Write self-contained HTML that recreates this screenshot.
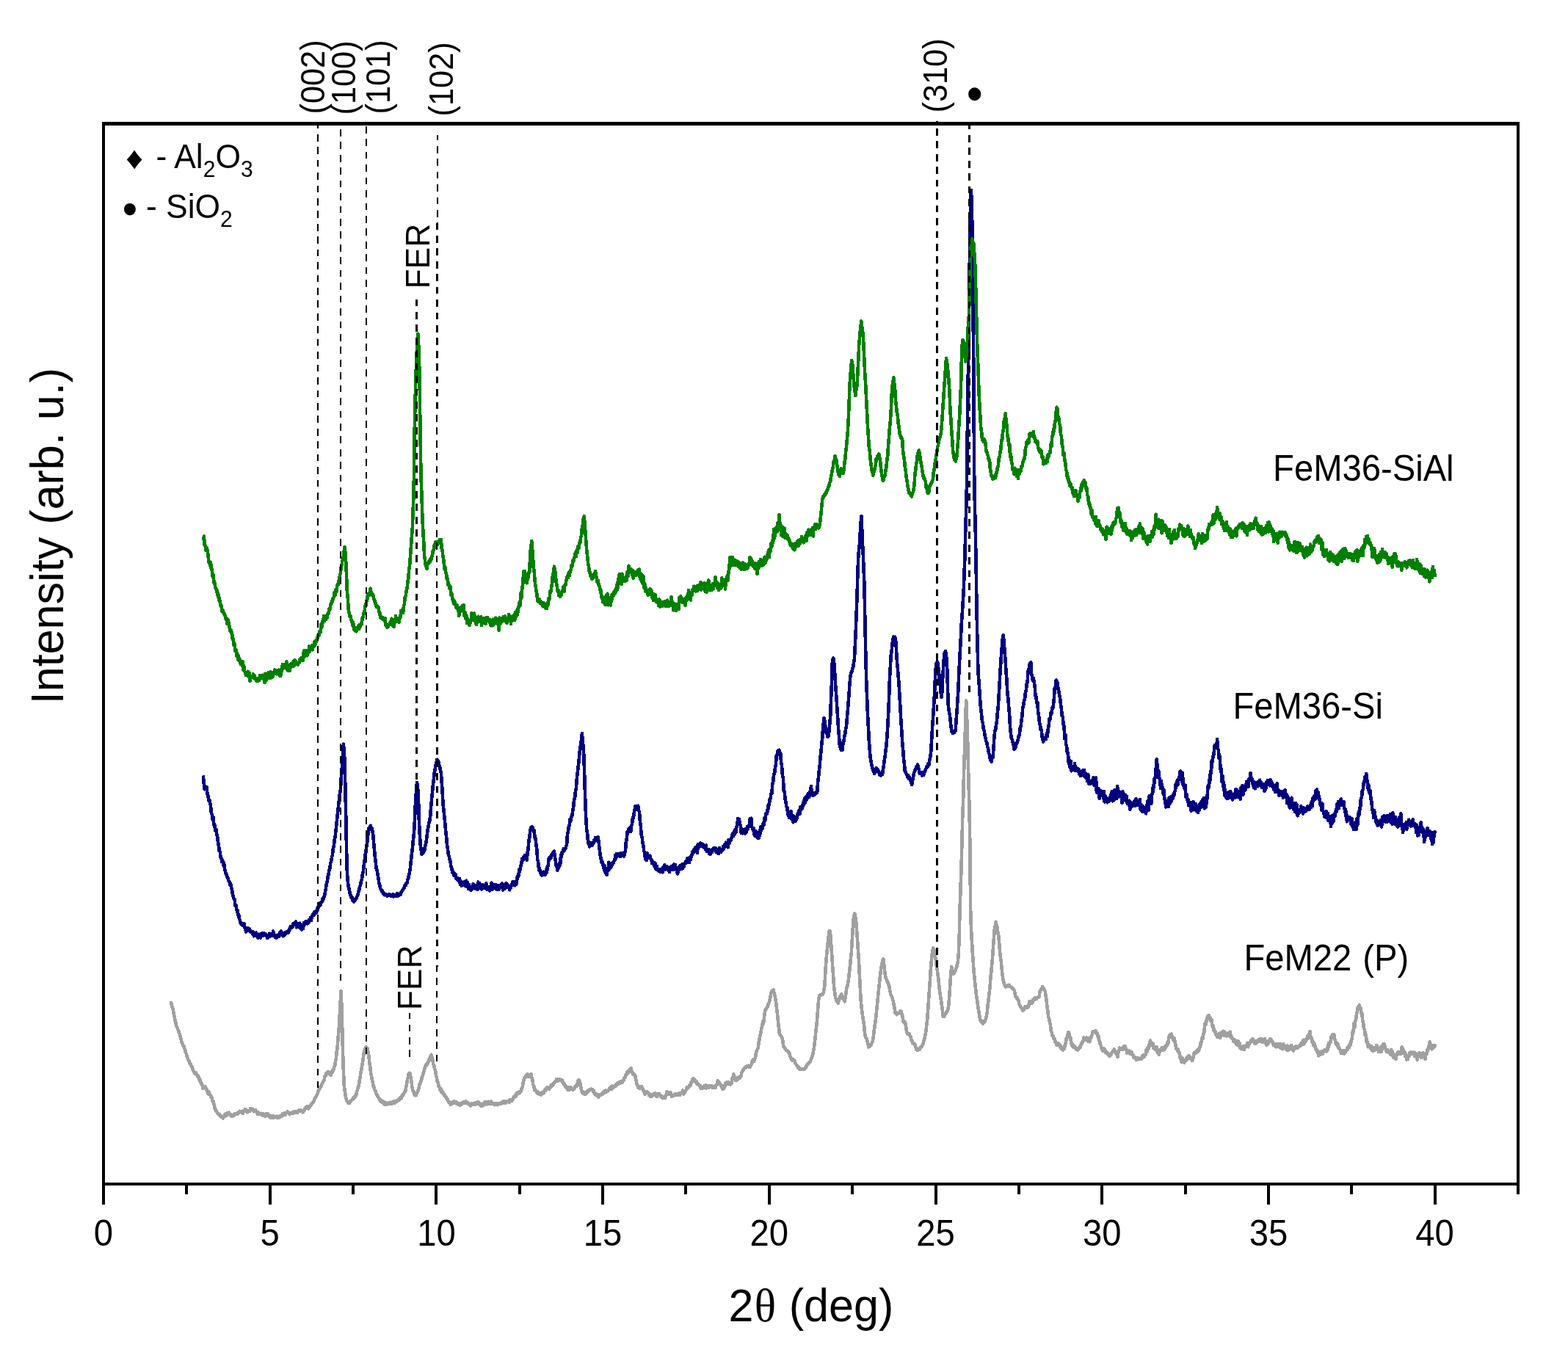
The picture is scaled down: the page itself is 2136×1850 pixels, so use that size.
<!DOCTYPE html>
<html lang="en"><head><meta charset="utf-8"><title>XRD patterns</title>
<style>
html,body{margin:0;padding:0;background:#fff;}
body{width:2136px;height:1850px;overflow:hidden;}
svg{display:block;}
text{font-family:"Liberation Sans", Arial, Helvetica, sans-serif;fill:#000;}
.t47{font-size:47.2px}.t44{font-size:44.4px}.t60{font-size:61.1px}.sub{font-size:30px}
.ser{font-family:"Liberation Serif", "DejaVu Serif", serif}
.curve{fill:none;stroke-linejoin:round;stroke-linecap:round}
.dl{stroke:#000;fill:none}
</style></head><body>
<svg width="2136" height="1850" viewBox="0 0 2136 1850">
<rect x="0" y="0" width="2136" height="1850" fill="#fff"/>
<g id="curves" shape-rendering="crispEdges">
<polyline class="curve" stroke="#a0a0a0" stroke-width="4.6" points="233.0,1366.2 233.9,1368.9 234.9,1372.9 235.8,1375.4 236.7,1381.2 237.6,1384.4 238.5,1390.6 239.4,1393.4 240.3,1397.5 241.2,1398.8 242.1,1402.3 243.0,1403.9 243.9,1407.0 244.8,1408.4 245.7,1412.7 246.6,1415.7 247.6,1420.1 248.5,1422.0 249.4,1424.7 250.3,1424.7 251.2,1428.3 252.1,1430.0 253.0,1434.3 253.9,1435.6 254.8,1439.7 255.7,1441.2 256.6,1444.1 257.5,1445.5 258.4,1448.4 259.3,1448.7 260.2,1451.7 261.2,1452.8 262.1,1455.7 263.0,1457.2 263.9,1460.4 264.8,1460.0 265.7,1462.8 266.6,1461.6 267.5,1464.2 268.4,1463.8 269.3,1466.6 270.2,1465.8 271.1,1469.8 272.0,1469.6 272.9,1474.3 273.8,1474.1 274.8,1477.8 275.7,1478.8 276.6,1482.8 277.5,1481.2 278.4,1482.0 279.3,1480.2 280.2,1481.5 281.1,1482.5 282.0,1486.6 282.9,1486.9 283.8,1490.3 284.7,1487.5 285.6,1491.2 286.5,1491.7 287.5,1494.9 288.4,1494.5 289.3,1499.5 290.2,1499.5 291.1,1503.6 292.0,1505.9 292.9,1510.9 293.8,1511.2 294.7,1514.0 295.6,1515.1 296.5,1516.6 297.4,1516.7 298.3,1518.8 299.2,1518.0 300.1,1520.8 301.1,1519.9 302.0,1522.0 302.9,1521.8 303.8,1523.4 304.7,1521.0 305.6,1520.7 306.5,1517.8 307.4,1520.3 308.3,1517.2 309.2,1519.5 310.1,1515.8 311.0,1517.7 311.9,1515.6 312.8,1518.2 313.7,1517.8 314.7,1520.3 315.6,1519.5 316.5,1520.6 317.4,1519.6 318.3,1519.9 319.2,1517.3 320.1,1518.2 321.0,1516.9 321.9,1518.0 322.8,1517.0 323.7,1518.0 324.6,1515.3 325.5,1516.2 326.4,1513.8 327.3,1514.8 328.3,1514.0 329.2,1515.9 330.1,1515.0 331.0,1517.0 331.9,1512.9 332.8,1513.8 333.7,1511.4 334.6,1513.3 335.5,1511.7 336.4,1515.3 337.3,1513.1 338.2,1514.4 339.1,1513.7 340.0,1514.0 341.0,1510.1 341.9,1510.5 342.8,1510.2 343.7,1511.9 344.6,1511.5 345.5,1514.4 346.4,1512.8 347.3,1512.9 348.2,1512.3 349.1,1514.6 350.0,1514.8 350.9,1517.6 351.8,1515.1 352.7,1517.7 353.6,1516.9 354.6,1517.7 355.5,1516.9 356.4,1518.4 357.3,1516.9 358.2,1519.3 359.1,1517.8 360.0,1520.0 360.9,1520.0 361.8,1520.7 362.7,1517.4 363.6,1518.5 364.5,1517.1 365.4,1519.5 366.3,1519.1 367.2,1521.9 368.2,1519.9 369.1,1523.1 370.0,1521.6 370.9,1522.1 371.8,1520.0 372.7,1522.6 373.6,1521.4 374.5,1522.0 375.4,1521.2 376.3,1521.7 377.2,1520.8 378.1,1522.9 379.0,1521.8 379.9,1522.6 380.9,1520.8 381.8,1521.8 382.7,1520.3 383.6,1520.8 384.5,1517.6 385.4,1519.2 386.3,1517.1 387.2,1518.4 388.1,1515.8 389.0,1518.4 389.9,1516.1 390.8,1516.0 391.7,1514.5 392.6,1515.4 393.5,1516.3 394.5,1518.3 395.4,1516.5 396.3,1517.1 397.2,1516.0 398.1,1517.1 399.0,1515.0 399.9,1516.5 400.8,1514.1 401.7,1515.7 402.6,1514.4 403.5,1515.9 404.4,1515.2 405.3,1515.5 406.2,1513.3 407.1,1514.1 408.1,1511.8 409.0,1512.9 409.9,1512.3 410.8,1513.8 411.7,1513.7 412.6,1515.4 413.5,1512.7 414.4,1513.1 415.3,1510.1 416.2,1510.3 417.1,1507.8 418.0,1509.7 418.9,1506.9 419.8,1510.5 420.7,1507.7 421.7,1508.5 422.6,1505.7 423.5,1506.2 424.4,1503.7 425.3,1503.4 426.2,1501.1 427.1,1501.3 428.0,1498.2 428.9,1496.7 429.8,1494.7 430.7,1494.0 431.6,1492.0 432.5,1490.3 433.4,1486.5 434.4,1484.7 435.3,1481.0 436.2,1481.8 437.1,1479.5 438.0,1478.8 438.9,1475.5 439.8,1474.7 440.7,1472.5 441.6,1471.7 442.5,1466.6 443.4,1465.8 444.3,1462.6 445.2,1462.2 446.1,1460.2 447.0,1462.4 448.0,1460.8 448.9,1463.0 449.8,1463.4 450.7,1465.1 451.6,1460.2 452.5,1461.0 453.4,1457.6 454.3,1457.8 455.2,1453.4 456.1,1452.4 457.0,1445.6 457.9,1441.4 458.8,1432.2 459.7,1426.1 460.6,1413.3 461.6,1403.3 462.5,1388.3 463.4,1371.6 464.5,1350.1 465.2,1366.0 466.1,1395.4 467.0,1433.2 467.9,1459.3 468.8,1478.7 469.7,1485.5 470.6,1492.5 471.5,1496.3 472.4,1499.9 473.3,1500.5 474.3,1502.9 475.2,1502.5 476.1,1502.9 477.0,1500.0 477.9,1500.0 478.8,1498.5 479.7,1498.4 480.6,1496.6 481.5,1497.3 482.4,1494.0 483.3,1494.9 484.2,1492.5 485.1,1492.0 486.0,1486.9 486.9,1485.5 487.9,1481.3 488.8,1478.6 489.7,1472.3 490.6,1467.7 491.5,1461.0 492.4,1457.2 493.3,1450.8 494.2,1445.6 495.1,1438.3 496.0,1433.6 496.9,1429.9 497.8,1427.5 498.7,1426.0 499.6,1427.4 500.5,1427.7 501.5,1434.3 502.4,1438.1 503.3,1448.0 504.2,1453.3 505.1,1462.2 506.0,1465.6 506.9,1471.5 507.8,1474.2 508.7,1480.7 509.6,1481.6 510.5,1485.2 511.4,1486.1 512.3,1489.7 513.2,1490.8 514.2,1493.7 515.1,1493.7 516.0,1496.6 516.9,1496.2 517.8,1499.7 518.7,1498.7 519.6,1501.2 520.5,1500.2 521.4,1501.7 522.3,1500.9 523.2,1504.0 524.1,1501.3 525.0,1504.9 525.9,1502.4 526.8,1504.4 527.8,1503.0 528.7,1503.5 529.6,1502.2 530.5,1503.5 531.4,1501.8 532.3,1503.8 533.2,1501.8 534.1,1503.5 535.0,1501.1 535.9,1502.3 536.8,1500.2 537.7,1502.5 538.6,1500.4 539.5,1501.2 540.4,1498.9 541.4,1500.5 542.3,1498.1 543.2,1498.8 544.1,1496.5 545.0,1497.7 545.9,1494.8 546.8,1496.2 547.7,1492.3 548.6,1492.7 549.5,1490.3 550.4,1489.3 551.3,1487.4 552.2,1486.7 553.1,1481.7 554.0,1477.9 555.0,1470.6 555.9,1468.1 556.8,1462.7 557.7,1461.7 558.6,1462.3 559.5,1468.3 560.4,1472.9 561.3,1480.3 562.2,1484.4 563.1,1487.8 564.0,1487.9 564.9,1491.6 565.8,1490.2 566.7,1492.2 567.7,1489.1 568.6,1488.2 569.5,1485.4 570.4,1483.4 571.3,1477.7 572.2,1477.2 573.1,1472.6 574.0,1472.4 574.9,1466.9 575.8,1465.7 576.7,1461.2 577.6,1459.8 578.5,1454.8 579.4,1453.3 580.3,1450.0 581.3,1451.3 582.2,1448.2 583.1,1448.6 584.0,1444.1 584.9,1444.1 585.8,1440.0 586.7,1441.0 587.6,1436.8 588.5,1441.1 589.4,1444.0 590.3,1449.3 591.2,1451.1 592.1,1456.0 593.0,1457.6 593.9,1464.7 594.9,1468.4 595.8,1473.8 596.7,1474.7 597.6,1479.7 598.5,1480.9 599.4,1484.4 600.3,1482.4 601.2,1487.5 602.1,1486.3 603.0,1489.3 603.9,1488.8 604.8,1491.7 605.7,1491.8 606.6,1493.6 607.6,1494.4 608.5,1496.9 609.4,1497.0 610.3,1500.1 611.2,1500.9 612.1,1502.6 613.0,1501.6 613.9,1504.6 614.8,1504.1 615.7,1503.8 616.6,1500.9 617.5,1502.0 618.4,1499.9 619.3,1502.5 620.2,1501.6 621.2,1502.8 622.1,1501.6 623.0,1503.8 623.9,1503.1 624.8,1504.8 625.7,1503.7 626.6,1506.0 627.5,1503.4 628.4,1504.6 629.3,1502.4 630.2,1503.5 631.1,1501.4 632.0,1502.6 632.9,1501.3 633.8,1502.7 634.8,1500.2 635.7,1502.6 636.6,1501.8 637.5,1503.5 638.4,1503.2 639.3,1505.1 640.2,1504.1 641.1,1506.3 642.0,1503.7 642.9,1504.7 643.8,1503.3 644.7,1505.1 645.6,1503.2 646.5,1504.5 647.4,1502.5 648.4,1504.2 649.3,1502.5 650.2,1504.0 651.1,1501.2 652.0,1504.0 652.9,1502.5 653.8,1505.5 654.7,1504.7 655.6,1507.1 656.5,1503.8 657.4,1506.3 658.3,1504.8 659.2,1505.2 660.1,1501.7 661.1,1504.0 662.0,1501.3 662.9,1504.4 663.8,1501.8 664.7,1502.4 665.6,1500.8 666.5,1503.5 667.4,1501.0 668.3,1503.8 669.2,1500.7 670.1,1503.2 671.0,1502.6 671.9,1503.7 672.8,1504.0 673.7,1505.2 674.7,1503.0 675.6,1505.1 676.5,1503.9 677.4,1505.3 678.3,1503.4 679.2,1504.3 680.1,1503.4 681.0,1503.7 681.9,1502.6 682.8,1503.3 683.7,1502.2 684.6,1502.4 685.5,1500.4 686.4,1503.1 687.3,1500.3 688.3,1502.8 689.2,1500.3 690.1,1501.5 691.0,1500.1 691.9,1501.1 692.8,1499.7 693.7,1502.0 694.6,1498.3 695.5,1500.4 696.4,1498.7 697.3,1499.8 698.2,1497.3 699.1,1496.9 700.0,1494.2 701.0,1494.2 701.9,1492.0 702.8,1493.7 703.7,1489.3 704.6,1490.9 705.5,1487.9 706.4,1489.5 707.3,1487.4 708.2,1489.0 709.1,1487.2 710.0,1485.7 710.9,1481.6 711.8,1480.8 712.7,1474.9 713.6,1471.6 714.6,1467.9 715.5,1468.1 716.4,1465.2 717.3,1465.2 718.2,1463.2 719.1,1466.7 720.0,1466.0 720.9,1466.6 721.8,1464.1 722.7,1467.0 723.6,1463.2 724.5,1468.7 725.4,1471.3 726.3,1477.5 727.2,1479.0 728.2,1485.1 729.1,1483.9 730.0,1486.5 730.9,1486.2 731.8,1489.2 732.7,1487.6 733.6,1490.3 734.5,1488.7 735.4,1490.8 736.3,1489.5 737.2,1491.5 738.1,1488.6 739.0,1490.0 739.9,1488.8 740.9,1489.1 741.8,1485.4 742.7,1486.2 743.6,1482.9 744.5,1484.1 745.4,1481.0 746.3,1483.1 747.2,1482.0 748.1,1483.8 749.0,1481.5 749.9,1481.1 750.8,1478.2 751.7,1479.9 752.6,1477.1 753.5,1477.6 754.5,1475.3 755.4,1475.3 756.3,1472.9 757.2,1472.9 758.1,1470.2 759.0,1472.9 759.9,1469.9 760.8,1471.4 761.7,1470.1 762.6,1471.9 763.5,1470.7 764.4,1472.1 765.3,1471.1 766.2,1474.5 767.1,1473.9 768.1,1477.0 769.0,1477.2 769.9,1480.0 770.8,1480.0 771.7,1482.0 772.6,1480.7 773.5,1484.6 774.4,1482.8 775.3,1484.7 776.2,1481.5 777.1,1483.3 778.0,1481.6 778.9,1483.2 779.8,1483.2 780.7,1484.9 781.7,1482.9 782.6,1482.6 783.5,1480.3 784.4,1480.1 785.3,1478.5 786.2,1479.6 787.1,1473.2 788.0,1472.0 788.9,1471.2 789.8,1474.5 790.7,1476.4 791.6,1482.9 792.5,1487.2 793.4,1488.7 794.4,1487.1 795.3,1490.2 796.2,1488.8 797.1,1490.9 798.0,1488.1 798.9,1489.7 799.8,1486.8 800.7,1487.9 801.6,1485.1 802.5,1486.3 803.4,1484.4 804.3,1484.5 805.2,1483.4 806.1,1485.0 807.0,1483.9 808.0,1486.7 808.9,1485.8 809.8,1490.1 810.7,1489.8 811.6,1491.9 812.5,1490.5 813.4,1493.2 814.3,1492.5 815.2,1494.8 816.1,1491.3 817.0,1492.5 817.9,1491.2 818.8,1491.8 819.7,1490.2 820.6,1490.6 821.6,1488.2 822.5,1488.6 823.4,1486.0 824.3,1488.2 825.2,1485.7 826.1,1487.7 827.0,1486.2 827.9,1486.9 828.8,1484.6 829.7,1484.8 830.6,1482.4 831.5,1483.4 832.4,1480.4 833.3,1483.8 834.3,1479.4 835.2,1482.1 836.1,1480.3 837.0,1480.4 837.9,1478.9 838.8,1479.6 839.7,1477.0 840.6,1477.7 841.5,1475.2 842.4,1476.6 843.3,1474.3 844.2,1476.1 845.1,1473.3 846.0,1474.8 846.9,1473.3 847.9,1474.6 848.8,1472.1 849.7,1471.4 850.6,1468.3 851.5,1467.4 852.4,1464.1 853.3,1464.2 854.2,1460.5 855.1,1462.4 856.0,1459.1 856.9,1460.6 857.8,1457.4 858.7,1457.9 859.6,1455.1 860.5,1459.9 861.5,1460.6 862.4,1463.8 863.3,1462.5 864.2,1464.8 865.1,1464.6 866.0,1469.8 866.9,1473.2 867.8,1477.8 868.7,1479.4 869.6,1482.1 870.5,1481.9 871.4,1483.1 872.3,1480.4 873.2,1483.2 874.1,1479.8 875.1,1483.2 876.0,1483.6 876.9,1486.9 877.8,1488.0 878.7,1490.8 879.6,1487.8 880.5,1488.4 881.4,1487.1 882.3,1488.8 883.2,1488.9 884.1,1491.9 885.0,1490.5 885.9,1493.9 886.8,1491.8 887.8,1493.5 888.7,1491.1 889.6,1492.4 890.5,1490.0 891.4,1491.8 892.3,1489.0 893.2,1492.4 894.1,1491.9 895.0,1494.2 895.9,1490.5 896.8,1490.5 897.7,1489.8 898.6,1492.0 899.5,1491.9 900.4,1494.3 901.4,1492.9 902.3,1496.1 903.2,1494.7 904.1,1495.8 905.0,1494.0 905.9,1496.0 906.8,1492.8 907.7,1490.9 908.6,1487.1 909.5,1490.8 910.4,1489.0 911.3,1490.8 912.2,1487.8 913.1,1487.9 914.0,1489.4 915.0,1494.0 915.9,1493.6 916.8,1493.3 917.7,1492.0 918.6,1491.9 919.5,1490.0 920.4,1492.1 921.3,1490.2 922.2,1491.5 923.1,1490.8 924.0,1492.1 924.9,1489.7 925.8,1492.0 926.7,1489.0 927.7,1489.9 928.6,1488.1 929.5,1489.5 930.4,1485.5 931.3,1490.6 932.2,1486.5 933.1,1487.8 934.0,1485.7 934.9,1484.6 935.8,1481.0 936.7,1482.9 937.6,1481.0 938.5,1480.7 939.4,1478.5 940.3,1479.1 941.3,1474.2 942.2,1475.3 943.1,1470.5 944.0,1470.1 944.9,1469.3 945.8,1471.1 946.7,1471.2 947.6,1474.1 948.5,1473.4 949.4,1476.9 950.3,1475.6 951.2,1477.9 952.1,1477.4 953.0,1479.5 953.9,1479.1 954.9,1482.9 955.8,1482.0 956.7,1482.8 957.6,1481.4 958.5,1481.5 959.4,1479.1 960.3,1481.7 961.2,1478.2 962.1,1482.5 963.0,1478.9 963.9,1481.5 964.8,1479.7 965.7,1481.7 966.6,1479.6 967.6,1480.7 968.5,1479.3 969.4,1480.4 970.3,1479.5 971.2,1482.0 972.1,1480.5 973.0,1481.6 973.9,1479.8 974.8,1481.4 975.7,1478.4 976.6,1477.8 977.5,1472.5 978.4,1474.1 979.3,1473.9 980.2,1476.4 981.2,1476.9 982.1,1479.0 983.0,1479.2 983.9,1483.4 984.8,1479.3 985.7,1483.3 986.6,1480.4 987.5,1480.5 988.4,1475.7 989.3,1475.0 990.2,1474.3 991.1,1476.6 992.0,1474.1 992.9,1476.8 993.8,1476.2 994.8,1477.5 995.7,1475.0 996.6,1475.9 997.5,1469.3 998.4,1469.4 999.3,1463.2 1000.2,1466.7 1001.1,1468.1 1002.0,1471.7 1002.9,1470.3 1003.8,1471.5 1004.7,1468.5 1005.6,1470.2 1006.5,1467.4 1007.4,1469.0 1008.4,1465.8 1009.3,1466.4 1010.2,1461.9 1011.1,1460.2 1012.0,1457.4 1012.9,1457.5 1013.8,1455.0 1014.7,1455.3 1015.6,1453.5 1016.5,1454.1 1017.4,1452.3 1018.3,1452.8 1019.2,1451.8 1020.1,1453.5 1021.1,1452.0 1022.0,1453.5 1022.9,1451.4 1023.8,1449.2 1024.7,1445.4 1025.6,1446.6 1026.5,1443.5 1027.4,1445.6 1028.3,1442.8 1029.2,1439.6 1030.1,1433.5 1031.0,1431.2 1031.9,1428.8 1032.8,1427.2 1033.7,1419.7 1034.7,1415.2 1035.6,1409.7 1036.5,1406.3 1037.4,1401.1 1038.3,1397.7 1039.2,1391.3 1040.1,1394.2 1041.0,1385.9 1041.9,1379.5 1042.8,1375.1 1043.7,1375.2 1044.6,1372.8 1045.5,1371.5 1046.4,1368.7 1047.3,1366.8 1048.3,1363.4 1049.2,1360.0 1050.1,1353.9 1051.0,1351.2 1051.9,1349.6 1052.8,1350.3 1053.7,1348.6 1054.6,1353.5 1055.5,1355.8 1056.4,1361.5 1057.3,1367.2 1058.2,1375.3 1059.1,1382.1 1060.0,1392.5 1061.0,1400.1 1061.9,1409.2 1062.8,1409.7 1063.7,1411.4 1064.6,1411.8 1065.5,1414.4 1066.4,1418.4 1067.3,1425.1 1068.2,1426.8 1069.1,1428.3 1070.0,1429.0 1070.9,1430.9 1071.8,1430.8 1072.7,1432.2 1073.6,1432.2 1074.6,1433.5 1075.5,1435.5 1076.4,1439.1 1077.3,1440.9 1078.2,1443.7 1079.1,1443.0 1080.0,1444.8 1080.9,1443.6 1081.8,1445.2 1082.7,1445.3 1083.6,1448.9 1084.5,1449.7 1085.4,1451.7 1086.3,1451.9 1087.2,1454.4 1088.2,1453.8 1089.1,1456.5 1090.0,1456.2 1090.9,1456.6 1091.8,1455.9 1092.7,1456.8 1093.6,1456.1 1094.5,1456.4 1095.4,1455.8 1096.3,1456.5 1097.2,1455.5 1098.1,1454.1 1099.0,1451.2 1099.9,1450.2 1100.8,1448.5 1101.8,1448.6 1102.7,1447.4 1103.6,1447.2 1104.5,1443.7 1105.4,1442.2 1106.3,1438.7 1107.2,1437.3 1108.1,1431.8 1109.0,1426.9 1109.9,1419.7 1110.8,1411.8 1111.7,1402.2 1112.6,1395.0 1113.5,1383.2 1114.5,1370.0 1115.4,1360.0 1116.3,1356.5 1117.2,1355.3 1118.1,1356.0 1119.0,1354.7 1119.9,1355.2 1120.8,1354.7 1121.7,1352.6 1122.6,1347.0 1123.5,1342.5 1124.4,1322.9 1125.3,1310.3 1126.2,1300.0 1127.1,1291.6 1128.1,1281.7 1129.0,1273.0 1129.9,1267.9 1130.8,1268.4 1131.7,1279.3 1132.6,1293.5 1133.5,1305.1 1134.4,1319.9 1135.3,1331.9 1136.2,1345.1 1137.1,1351.8 1138.0,1358.2 1138.9,1361.3 1139.8,1363.8 1140.7,1364.3 1141.7,1366.8 1142.6,1362.6 1143.5,1360.7 1144.4,1357.7 1145.3,1356.9 1146.2,1354.3 1147.1,1356.2 1148.0,1358.3 1148.9,1361.7 1149.8,1362.0 1150.7,1364.3 1151.6,1358.5 1152.5,1352.8 1153.4,1345.8 1154.4,1343.1 1155.3,1338.3 1156.2,1332.0 1157.1,1323.6 1158.0,1316.0 1158.9,1306.1 1159.8,1298.4 1160.7,1282.2 1161.6,1267.9 1162.5,1252.9 1163.4,1247.8 1164.3,1244.6 1165.2,1248.9 1166.1,1255.3 1167.0,1266.0 1168.0,1279.2 1168.9,1293.9 1169.8,1305.9 1170.7,1324.8 1171.6,1341.3 1172.5,1360.2 1173.4,1370.0 1174.3,1377.9 1175.2,1383.9 1176.1,1391.0 1177.0,1395.8 1177.9,1405.7 1178.8,1411.4 1179.7,1414.4 1180.6,1415.0 1181.6,1418.8 1182.5,1422.8 1183.4,1426.4 1184.3,1424.4 1185.2,1425.3 1186.1,1423.3 1187.0,1422.9 1187.9,1419.7 1188.8,1418.9 1189.7,1412.6 1190.6,1405.4 1191.5,1398.3 1192.4,1392.6 1193.3,1385.1 1194.3,1375.4 1195.2,1365.6 1196.1,1357.1 1197.0,1348.0 1197.9,1340.5 1198.8,1330.9 1199.7,1324.3 1200.6,1317.2 1201.5,1312.4 1202.4,1308.1 1203.3,1306.6 1204.2,1314.4 1205.1,1322.7 1206.0,1329.4 1206.9,1333.1 1207.9,1334.3 1208.8,1337.7 1209.7,1338.6 1210.6,1342.2 1211.5,1344.4 1212.4,1350.1 1213.3,1354.4 1214.2,1356.5 1215.1,1358.2 1216.0,1361.4 1216.9,1364.2 1217.8,1370.0 1218.7,1373.8 1219.6,1380.5 1220.5,1380.8 1221.5,1382.1 1222.4,1380.1 1223.3,1380.9 1224.2,1379.7 1225.1,1379.6 1226.0,1377.6 1226.9,1377.4 1227.8,1377.7 1228.7,1382.3 1229.6,1385.0 1230.5,1391.7 1231.4,1392.2 1232.3,1394.1 1233.2,1392.7 1234.1,1398.8 1235.1,1406.0 1236.0,1408.3 1236.9,1407.2 1237.8,1408.9 1238.7,1408.2 1239.6,1411.3 1240.5,1412.3 1241.4,1416.3 1242.3,1417.4 1243.2,1421.1 1244.1,1420.9 1245.0,1422.5 1245.9,1421.9 1246.8,1423.6 1247.8,1428.0 1248.7,1430.4 1249.6,1429.7 1250.5,1430.8 1251.4,1429.2 1252.3,1430.1 1253.2,1427.5 1254.1,1427.4 1255.0,1425.5 1255.9,1425.8 1256.8,1422.9 1257.7,1421.0 1258.6,1417.1 1259.5,1415.1 1260.4,1409.7 1261.4,1405.1 1262.3,1396.4 1263.2,1389.1 1264.1,1376.2 1265.0,1363.5 1265.9,1349.5 1266.8,1337.0 1267.7,1322.3 1268.6,1312.1 1269.5,1301.2 1270.4,1294.7 1271.3,1291.6 1272.2,1293.7 1273.1,1295.0 1274.0,1303.0 1275.0,1308.9 1275.9,1316.1 1276.8,1321.5 1277.7,1328.8 1278.6,1335.5 1279.5,1344.8 1280.4,1352.2 1281.3,1358.6 1282.2,1364.2 1283.1,1370.8 1284.0,1377.2 1284.9,1385.2 1285.8,1385.0 1286.7,1384.0 1287.7,1381.5 1288.6,1380.5 1289.5,1378.5 1290.4,1377.8 1291.3,1375.5 1292.2,1370.2 1293.1,1359.4 1294.0,1345.9 1294.9,1332.0 1296.1,1317.2 1296.7,1319.7 1297.6,1324.4 1298.5,1326.6 1299.4,1325.8 1300.3,1323.8 1301.3,1322.8 1302.2,1319.7 1303.1,1317.8 1304.0,1314.0 1304.9,1310.0 1305.8,1299.1 1306.7,1277.2 1307.6,1237.1 1308.5,1211.0 1309.4,1186.9 1310.3,1152.0 1311.2,1114.6 1312.1,1092.4 1313.0,1054.6 1313.9,1025.8 1314.9,994.1 1315.8,964.4 1316.2,954.5 1316.7,965.1 1317.6,992.0 1318.5,1020.3 1319.4,1061.9 1320.3,1093.7 1321.2,1139.9 1322.1,1237.4 1323.0,1266.2 1323.9,1282.3 1324.8,1297.4 1325.7,1309.5 1326.6,1323.8 1327.5,1331.3 1328.5,1342.4 1329.4,1349.8 1330.3,1358.2 1331.2,1363.2 1332.1,1370.6 1333.0,1375.5 1333.9,1381.9 1334.8,1387.0 1335.7,1390.8 1336.6,1390.5 1337.5,1393.0 1338.4,1393.0 1339.3,1394.3 1340.2,1391.1 1341.2,1392.3 1342.1,1389.9 1343.0,1388.0 1343.9,1383.3 1344.8,1379.0 1345.7,1369.1 1346.6,1361.7 1347.5,1353.7 1348.4,1346.6 1349.3,1333.7 1350.2,1324.6 1351.1,1314.8 1352.0,1305.8 1352.9,1291.5 1353.8,1279.4 1354.8,1266.6 1355.7,1261.7 1356.6,1255.8 1357.5,1261.2 1358.4,1263.4 1359.3,1270.3 1360.2,1274.5 1361.1,1284.1 1362.0,1295.6 1362.9,1304.2 1363.8,1310.0 1364.7,1320.1 1365.6,1328.7 1366.5,1334.6 1367.4,1337.9 1368.4,1342.2 1369.3,1343.4 1370.2,1344.6 1371.1,1343.8 1372.0,1344.1 1372.9,1342.0 1373.8,1342.2 1374.7,1341.8 1375.6,1343.8 1376.5,1344.0 1377.4,1345.0 1378.3,1345.4 1379.2,1346.5 1380.1,1346.9 1381.1,1348.3 1382.0,1350.3 1382.9,1355.8 1383.8,1358.0 1384.7,1359.7 1385.6,1359.2 1386.5,1361.4 1387.4,1362.6 1388.3,1367.4 1389.2,1369.5 1390.1,1371.5 1391.0,1371.5 1391.9,1374.0 1392.8,1374.6 1393.7,1377.0 1394.7,1375.2 1395.6,1374.0 1396.5,1371.2 1397.4,1372.5 1398.3,1371.1 1399.2,1372.9 1400.1,1372.4 1401.0,1371.6 1401.9,1366.2 1402.8,1363.9 1403.7,1364.6 1404.6,1366.8 1405.5,1366.3 1406.4,1366.3 1407.3,1361.8 1408.3,1361.9 1409.2,1359.8 1410.1,1361.4 1411.0,1359.2 1411.9,1361.1 1412.8,1359.1 1413.7,1359.3 1414.6,1358.1 1415.5,1358.3 1416.4,1351.9 1417.3,1349.7 1418.2,1347.3 1419.1,1347.9 1420.0,1344.2 1421.0,1346.8 1421.9,1346.9 1422.8,1348.7 1423.7,1350.6 1424.6,1357.0 1425.5,1361.4 1426.4,1371.2 1427.3,1376.8 1428.2,1385.3 1429.1,1387.8 1430.0,1392.4 1430.9,1396.6 1431.8,1405.1 1432.7,1406.4 1433.6,1411.1 1434.6,1411.2 1435.5,1415.1 1436.4,1414.9 1437.3,1419.3 1438.2,1418.7 1439.1,1423.7 1440.0,1423.8 1440.9,1423.5 1441.8,1421.2 1442.7,1422.1 1443.6,1423.4 1444.5,1427.0 1445.4,1425.5 1446.3,1429.3 1447.2,1427.5 1448.2,1430.6 1449.1,1429.5 1450.0,1427.9 1450.9,1422.1 1451.8,1421.1 1452.7,1414.5 1453.6,1413.6 1454.5,1408.9 1455.4,1406.5 1456.3,1407.2 1457.2,1413.0 1458.1,1412.4 1459.0,1418.8 1459.9,1422.7 1460.8,1425.1 1461.8,1423.2 1462.7,1426.9 1463.6,1425.0 1464.5,1428.3 1465.4,1427.3 1466.3,1429.7 1467.2,1428.6 1468.1,1430.3 1469.0,1427.9 1469.9,1428.3 1470.8,1426.4 1471.7,1426.9 1472.6,1422.4 1473.5,1422.5 1474.5,1419.5 1475.4,1418.0 1476.3,1413.5 1477.2,1415.4 1478.1,1414.4 1479.0,1416.4 1479.9,1413.7 1480.8,1416.5 1481.7,1414.0 1482.6,1419.0 1483.5,1416.8 1484.4,1419.3 1485.3,1413.9 1486.2,1413.7 1487.1,1410.5 1488.1,1408.5 1489.0,1404.9 1489.9,1406.0 1490.8,1405.3 1491.7,1406.5 1492.6,1404.4 1493.5,1407.5 1494.4,1407.2 1495.3,1411.2 1496.2,1411.3 1497.1,1417.5 1498.0,1418.2 1498.9,1422.9 1499.8,1424.1 1500.7,1428.7 1501.7,1429.4 1502.6,1432.0 1503.5,1427.9 1504.4,1431.2 1505.3,1430.3 1506.2,1434.2 1507.1,1432.6 1508.0,1435.3 1508.9,1434.7 1509.8,1436.9 1510.7,1436.2 1511.6,1438.8 1512.5,1435.9 1513.4,1436.7 1514.4,1433.9 1515.3,1433.5 1516.2,1431.1 1517.1,1432.2 1518.0,1429.3 1518.9,1432.8 1519.8,1432.9 1520.7,1436.3 1521.6,1436.0 1522.5,1439.8 1523.4,1434.0 1524.3,1431.1 1525.2,1427.5 1526.1,1430.2 1527.0,1428.0 1528.0,1429.8 1528.9,1429.6 1529.8,1429.7 1530.7,1425.7 1531.6,1428.3 1532.5,1425.3 1533.4,1428.6 1534.3,1429.2 1535.2,1434.6 1536.1,1433.3 1537.0,1434.1 1537.9,1431.7 1538.8,1435.4 1539.7,1432.6 1540.6,1433.9 1541.6,1433.2 1542.5,1436.7 1543.4,1437.2 1544.3,1441.1 1545.2,1439.8 1546.1,1441.8 1547.0,1440.8 1547.9,1444.2 1548.8,1441.7 1549.7,1442.9 1550.6,1441.5 1551.5,1443.3 1552.4,1442.7 1553.3,1442.9 1554.2,1441.1 1555.2,1442.4 1556.1,1438.7 1557.0,1440.0 1557.9,1437.1 1558.8,1439.5 1559.7,1437.2 1560.6,1437.0 1561.5,1430.4 1562.4,1432.9 1563.3,1427.4 1564.2,1429.7 1565.1,1424.3 1566.0,1424.9 1566.9,1417.6 1567.9,1422.1 1568.8,1420.2 1569.7,1424.0 1570.6,1421.6 1571.5,1427.6 1572.4,1427.1 1573.3,1429.4 1574.2,1426.3 1575.1,1427.8 1576.0,1426.3 1576.9,1434.2 1577.8,1431.8 1578.7,1436.6 1579.6,1433.3 1580.5,1431.9 1581.5,1429.4 1582.4,1430.5 1583.3,1426.9 1584.2,1431.2 1585.1,1429.7 1586.0,1430.1 1586.9,1426.1 1587.8,1427.7 1588.7,1424.0 1589.6,1424.5 1590.5,1419.6 1591.4,1421.7 1592.3,1412.4 1593.2,1411.0 1594.1,1409.4 1595.1,1413.2 1596.0,1408.6 1596.9,1413.7 1597.8,1413.8 1598.7,1417.3 1599.6,1414.1 1600.5,1419.0 1601.4,1422.8 1602.3,1428.3 1603.2,1428.7 1604.1,1431.0 1605.0,1429.8 1605.9,1434.4 1606.8,1434.4 1607.8,1441.8 1608.7,1441.3 1609.6,1446.9 1610.5,1441.2 1611.4,1445.7 1612.3,1444.9 1613.2,1447.8 1614.1,1444.7 1615.0,1445.1 1615.9,1441.6 1616.8,1443.6 1617.7,1440.4 1618.6,1441.8 1619.5,1438.5 1620.4,1441.2 1621.4,1440.2 1622.3,1442.0 1623.2,1442.3 1624.1,1445.1 1625.0,1442.1 1625.9,1440.7 1626.8,1433.9 1627.7,1436.1 1628.6,1432.6 1629.5,1434.3 1630.4,1431.3 1631.3,1433.5 1632.2,1429.5 1633.1,1431.3 1634.0,1427.3 1635.0,1425.9 1635.9,1419.6 1636.8,1419.3 1637.7,1413.3 1638.6,1414.5 1639.5,1408.3 1640.4,1405.6 1641.3,1394.8 1642.2,1396.5 1643.1,1390.7 1644.0,1391.7 1644.9,1384.7 1645.8,1387.2 1646.7,1383.3 1647.7,1387.4 1648.6,1386.0 1649.5,1390.7 1650.4,1389.0 1651.3,1397.5 1652.2,1396.5 1653.1,1403.3 1654.0,1402.0 1654.9,1406.0 1655.8,1405.4 1656.7,1410.3 1657.6,1409.1 1658.5,1413.1 1659.4,1410.3 1660.3,1412.7 1661.3,1407.8 1662.2,1413.9 1663.1,1407.5 1664.0,1409.9 1664.9,1405.6 1665.8,1408.9 1666.7,1404.7 1667.6,1410.9 1668.5,1406.0 1669.4,1410.6 1670.3,1408.1 1671.2,1411.6 1672.1,1408.5 1673.0,1410.9 1673.9,1407.0 1674.9,1410.3 1675.8,1405.7 1676.7,1413.2 1677.6,1412.2 1678.5,1415.4 1679.4,1414.8 1680.3,1418.6 1681.2,1415.8 1682.1,1419.5 1683.0,1417.7 1683.9,1422.5 1684.8,1420.9 1685.7,1423.5 1686.6,1418.3 1687.5,1425.4 1688.5,1421.3 1689.4,1427.8 1690.3,1425.6 1691.2,1429.3 1692.1,1427.3 1693.0,1428.6 1693.9,1425.4 1694.8,1430.1 1695.7,1425.1 1696.6,1426.5 1697.5,1423.8 1698.4,1424.0 1699.3,1420.8 1700.2,1426.3 1701.2,1421.3 1702.1,1421.8 1703.0,1419.7 1703.9,1419.7 1704.8,1416.7 1705.7,1418.7 1706.6,1414.9 1707.5,1419.1 1708.4,1417.7 1709.3,1421.4 1710.2,1418.4 1711.1,1421.7 1712.0,1418.6 1712.9,1418.8 1713.8,1416.7 1714.8,1418.6 1715.7,1415.7 1716.6,1417.8 1717.5,1415.1 1718.4,1419.4 1719.3,1415.8 1720.2,1420.2 1721.1,1416.9 1722.0,1419.3 1722.9,1415.0 1723.8,1421.3 1724.7,1419.2 1725.6,1423.9 1726.5,1418.4 1727.4,1421.8 1728.4,1418.8 1729.3,1418.9 1730.2,1415.2 1731.1,1416.5 1732.0,1416.5 1732.9,1419.2 1733.8,1419.3 1734.7,1423.9 1735.6,1422.6 1736.5,1424.5 1737.4,1422.0 1738.3,1426.3 1739.2,1424.1 1740.1,1426.1 1741.1,1422.1 1742.0,1425.8 1742.9,1423.0 1743.8,1427.5 1744.7,1422.0 1745.6,1425.8 1746.5,1423.1 1747.4,1429.3 1748.3,1422.1 1749.2,1426.7 1750.1,1426.4 1751.0,1428.3 1751.9,1425.2 1752.8,1430.4 1753.7,1424.5 1754.7,1430.6 1755.6,1428.1 1756.5,1429.9 1757.4,1426.6 1758.3,1427.9 1759.2,1423.9 1760.1,1429.4 1761.0,1429.0 1761.9,1431.5 1762.8,1427.3 1763.7,1428.8 1764.6,1425.7 1765.5,1426.7 1766.4,1425.6 1767.3,1428.0 1768.3,1425.8 1769.2,1426.5 1770.1,1424.5 1771.0,1424.9 1771.9,1422.4 1772.8,1423.9 1773.7,1419.7 1774.6,1422.3 1775.5,1416.7 1776.4,1422.5 1777.3,1417.9 1778.2,1419.3 1779.1,1415.9 1780.0,1416.7 1780.9,1412.3 1781.9,1414.7 1782.8,1409.4 1783.7,1410.1 1784.6,1404.9 1785.5,1413.7 1786.4,1413.5 1787.3,1419.4 1788.2,1417.8 1789.1,1423.7 1790.0,1420.2 1790.9,1426.1 1791.8,1425.5 1792.7,1430.1 1793.6,1430.6 1794.6,1433.6 1795.5,1432.1 1796.4,1438.4 1797.3,1433.4 1798.2,1436.8 1799.1,1432.9 1800.0,1434.3 1800.9,1432.1 1801.8,1435.9 1802.7,1431.6 1803.6,1433.0 1804.5,1430.3 1805.4,1431.6 1806.3,1430.1 1807.2,1432.6 1808.2,1427.9 1809.1,1428.9 1810.0,1420.9 1810.9,1423.0 1811.8,1418.9 1812.7,1419.6 1813.6,1411.7 1814.5,1412.7 1815.4,1408.9 1816.3,1413.4 1817.2,1409.3 1818.1,1416.0 1819.0,1416.5 1819.9,1422.5 1820.8,1420.4 1821.8,1425.2 1822.7,1422.3 1823.6,1427.9 1824.5,1427.9 1825.4,1430.0 1826.3,1431.0 1827.2,1435.0 1828.1,1431.4 1829.0,1433.8 1829.9,1431.6 1830.8,1435.4 1831.7,1431.0 1832.6,1434.3 1833.5,1430.7 1834.5,1430.8 1835.4,1427.4 1836.3,1428.9 1837.2,1425.1 1838.1,1426.8 1839.0,1421.6 1839.9,1423.2 1840.8,1417.5 1841.7,1414.9 1842.6,1405.5 1843.5,1406.0 1844.4,1394.5 1845.3,1400.0 1846.2,1391.3 1847.1,1388.8 1848.1,1380.5 1849.0,1378.2 1849.9,1371.8 1850.8,1372.3 1851.7,1369.3 1852.6,1372.4 1853.5,1372.9 1854.4,1381.0 1855.3,1380.3 1856.2,1390.5 1857.1,1393.3 1858.0,1401.1 1858.9,1402.6 1859.8,1410.4 1860.7,1408.9 1861.7,1419.6 1862.6,1419.6 1863.5,1426.4 1864.4,1422.5 1865.3,1425.8 1866.2,1425.6 1867.1,1428.2 1868.0,1425.1 1868.9,1431.2 1869.8,1427.8 1870.7,1431.7 1871.6,1427.5 1872.5,1430.9 1873.4,1426.9 1874.4,1429.0 1875.3,1423.8 1876.2,1428.5 1877.1,1429.4 1878.0,1432.7 1878.9,1429.0 1879.8,1432.2 1880.7,1426.4 1881.6,1432.9 1882.5,1425.5 1883.4,1429.2 1884.3,1422.3 1885.2,1422.2 1886.1,1423.5 1887.0,1428.8 1888.0,1429.3 1888.9,1432.9 1889.8,1430.0 1890.7,1433.2 1891.6,1432.4 1892.5,1433.8 1893.4,1432.8 1894.3,1437.0 1895.2,1430.1 1896.1,1433.1 1897.0,1432.6 1897.9,1440.4 1898.8,1437.1 1899.7,1441.4 1900.6,1439.7 1901.6,1442.6 1902.5,1436.4 1903.4,1437.1 1904.3,1433.4 1905.2,1435.7 1906.1,1433.7 1907.0,1436.1 1907.9,1434.9 1908.8,1435.4 1909.7,1426.2 1910.6,1428.0 1911.5,1429.7 1912.4,1433.3 1913.3,1432.9 1914.2,1438.9 1915.2,1435.8 1916.1,1443.6 1917.0,1439.4 1917.9,1442.9 1918.8,1437.6 1919.7,1438.6 1920.6,1434.0 1921.5,1434.9 1922.4,1433.4 1923.3,1436.2 1924.2,1434.4 1925.1,1435.8 1926.0,1433.4 1926.9,1438.6 1927.9,1434.4 1928.8,1438.1 1929.7,1437.4 1930.6,1443.7 1931.5,1436.3 1932.4,1438.7 1933.3,1434.3 1934.2,1439.2 1935.1,1436.8 1936.0,1441.1 1936.9,1434.9 1937.8,1439.9 1938.7,1434.1 1939.6,1438.3 1940.5,1438.8 1941.5,1443.0 1942.4,1436.8 1943.3,1436.0 1944.2,1430.8 1945.1,1431.6 1946.0,1425.7 1946.9,1426.7 1947.8,1419.1 1948.7,1424.9 1949.6,1423.5 1950.5,1429.4 1951.4,1424.9 1952.3,1427.9 1953.2,1424.0 1954.1,1425.9 1955.1,1424.3"/>
<polyline class="curve" stroke="#000080" stroke-width="4.6" points="277.0,1058.3 277.9,1069.4 278.8,1075.3 279.7,1071.6 280.7,1074.0 281.6,1072.0 282.5,1082.0 283.4,1083.8 284.3,1090.1 285.2,1089.4 286.1,1093.7 287.0,1097.7 287.9,1107.8 288.8,1109.9 289.7,1116.9 290.6,1113.5 291.5,1124.1 292.4,1124.1 293.3,1131.1 294.3,1129.9 295.2,1136.6 296.1,1139.5 297.0,1147.2 297.9,1152.0 298.8,1159.4 299.7,1160.3 300.6,1168.4 301.5,1168.5 302.4,1174.4 303.3,1172.3 304.2,1178.4 305.1,1175.6 306.0,1183.9 306.9,1186.4 307.9,1191.0 308.8,1191.1 309.7,1195.8 310.6,1196.3 311.5,1200.3 312.4,1201.2 313.3,1205.2 314.2,1203.8 315.1,1209.5 316.0,1211.5 316.9,1218.2 317.8,1221.6 318.7,1224.7 319.6,1225.1 320.5,1234.0 321.5,1232.7 322.4,1239.8 323.3,1239.9 324.2,1246.4 325.1,1245.8 326.0,1252.7 326.9,1253.3 327.8,1258.1 328.7,1257.9 329.6,1260.4 330.5,1258.5 331.4,1261.3 332.3,1257.9 333.2,1263.1 334.2,1264.9 335.1,1269.5 336.0,1264.4 336.9,1268.3 337.8,1264.6 338.7,1266.7 339.6,1265.0 340.5,1269.3 341.4,1267.7 342.3,1269.8 343.2,1270.1 344.1,1272.7 345.0,1269.5 345.9,1275.3 346.8,1271.0 347.8,1271.8 348.7,1270.6 349.6,1274.7 350.5,1272.6 351.4,1277.7 352.3,1272.7 353.2,1275.5 354.1,1273.9 355.0,1277.3 355.9,1271.8 356.8,1275.2 357.7,1271.4 358.6,1275.1 359.5,1271.5 360.4,1273.1 361.4,1272.0 362.3,1274.8 363.2,1274.2 364.1,1278.1 365.0,1274.3 365.9,1276.6 366.8,1271.8 367.7,1275.4 368.6,1273.6 369.5,1273.4 370.4,1272.2 371.3,1274.7 372.2,1268.6 373.1,1275.3 374.1,1273.3 375.0,1276.7 375.9,1274.4 376.8,1277.9 377.7,1274.9 378.6,1275.8 379.5,1273.2 380.4,1275.7 381.3,1270.6 382.2,1271.6 383.1,1268.6 384.0,1272.9 384.9,1273.7 385.8,1275.3 386.7,1272.6 387.7,1273.3 388.6,1270.3 389.5,1271.9 390.4,1269.5 391.3,1270.6 392.2,1268.6 393.1,1270.2 394.0,1265.6 394.9,1266.4 395.8,1261.9 396.7,1264.2 397.6,1261.7 398.5,1262.8 399.4,1258.6 400.3,1259.1 401.3,1257.2 402.2,1258.6 403.1,1255.6 404.0,1263.3 404.9,1261.0 405.8,1263.1 406.7,1258.8 407.6,1261.2 408.5,1257.7 409.4,1264.6 410.3,1263.9 411.2,1266.3 412.1,1261.9 413.0,1265.0 413.9,1257.2 414.9,1259.2 415.8,1255.5 416.7,1257.0 417.6,1255.4 418.5,1258.2 419.4,1254.8 420.3,1257.6 421.2,1253.0 422.1,1254.2 423.0,1250.3 423.9,1253.9 424.8,1248.2 425.7,1248.2 426.6,1245.2 427.6,1246.5 428.5,1242.5 429.4,1244.1 430.3,1240.9 431.2,1243.3 432.1,1238.3 433.0,1238.8 433.9,1233.8 434.8,1234.4 435.7,1230.5 436.6,1232.9 437.5,1228.7 438.4,1229.0 439.3,1224.5 440.2,1226.1 441.2,1222.2 442.1,1220.4 443.0,1214.7 443.9,1210.4 444.8,1204.4 445.7,1201.3 446.6,1194.4 447.5,1191.8 448.4,1185.2 449.3,1182.9 450.2,1175.9 451.1,1173.0 452.0,1167.8 452.9,1164.7 453.8,1155.9 454.8,1152.3 455.7,1144.0 456.6,1139.8 457.5,1131.8 458.4,1123.7 459.3,1113.8 460.2,1106.5 461.1,1096.4 462.0,1089.8 462.9,1081.8 463.8,1076.7 464.7,1060.9 465.6,1049.6 466.5,1034.9 467.5,1021.8 467.9,1013.7 468.4,1019.2 469.3,1032.0 470.2,1064.9 471.1,1105.2 472.0,1154.6 472.9,1188.9 473.8,1200.7 474.7,1208.1 475.6,1211.1 476.5,1216.3 477.4,1218.8 478.3,1222.3 479.2,1221.6 480.1,1226.4 481.1,1227.8 482.0,1228.3 482.9,1226.0 483.8,1226.7 484.7,1224.1 485.6,1223.6 486.5,1220.9 487.4,1218.6 488.3,1214.9 489.2,1212.5 490.1,1208.3 491.0,1205.4 491.9,1200.8 492.8,1198.5 493.7,1191.8 494.7,1188.3 495.6,1179.7 496.5,1173.5 497.4,1165.6 498.3,1161.0 499.2,1154.0 500.1,1148.8 501.0,1138.9 501.9,1133.7 502.8,1127.4 503.7,1127.1 504.6,1124.7 505.5,1127.2 506.4,1128.3 507.4,1132.3 508.3,1137.6 509.2,1149.4 510.1,1159.2 511.0,1168.4 511.9,1175.9 512.8,1183.7 513.7,1186.2 514.6,1191.9 515.5,1196.8 516.4,1203.6 517.3,1206.1 518.2,1210.3 519.1,1211.5 520.0,1214.3 521.0,1214.0 521.9,1216.7 522.8,1216.3 523.7,1219.3 524.6,1218.3 525.5,1219.1 526.4,1218.8 527.3,1220.6 528.2,1218.8 529.1,1220.1 530.0,1218.0 530.9,1220.0 531.8,1219.4 532.7,1220.6 533.6,1219.7 534.6,1220.5 535.5,1217.9 536.4,1221.4 537.3,1219.3 538.2,1220.9 539.1,1219.5 540.0,1221.2 540.9,1217.0 541.8,1220.8 542.7,1218.9 543.6,1220.0 544.5,1217.7 545.4,1218.8 546.3,1215.4 547.2,1214.9 548.2,1212.3 549.1,1212.3 550.0,1209.3 550.9,1209.1 551.8,1205.5 552.7,1206.2 553.6,1203.4 554.5,1202.5 555.4,1198.2 556.3,1196.1 557.2,1191.4 558.1,1188.2 559.0,1181.2 559.9,1172.3 560.9,1163.2 561.8,1156.4 562.7,1146.1 563.6,1138.1 564.5,1128.2 565.4,1105.9 566.3,1087.5 567.2,1075.9 568.0,1065.9 569.0,1072.2 569.9,1082.6 570.8,1116.6 571.7,1134.4 572.6,1149.9 573.5,1156.2 574.5,1163.7 575.4,1161.4 576.3,1162.0 577.2,1158.0 578.1,1159.1 579.0,1153.5 579.9,1150.2 580.8,1145.4 581.7,1137.8 582.6,1130.6 583.5,1126.2 584.4,1120.9 585.3,1118.1 586.2,1111.9 587.1,1099.6 588.1,1088.6 589.0,1079.8 589.9,1069.5 590.8,1062.6 591.7,1052.9 592.6,1048.4 593.5,1041.8 594.4,1039.8 595.3,1034.7 596.2,1037.4 597.1,1036.8 598.0,1042.4 598.9,1043.1 599.8,1048.3 600.8,1052.4 601.7,1064.9 602.6,1077.5 603.5,1094.9 604.4,1102.2 605.3,1112.3 606.2,1120.9 607.1,1131.3 608.0,1139.1 608.9,1149.5 609.8,1156.1 610.7,1163.5 611.6,1166.0 612.5,1171.3 613.4,1172.8 614.4,1180.9 615.3,1182.4 616.2,1188.0 617.1,1187.2 618.0,1192.3 618.9,1189.4 619.8,1191.8 620.7,1191.5 621.6,1197.2 622.5,1195.7 623.4,1198.7 624.3,1196.8 625.2,1200.5 626.1,1197.1 627.0,1205.2 628.0,1201.1 628.9,1206.8 629.8,1201.8 630.7,1205.5 631.6,1201.9 632.5,1204.8 633.4,1200.7 634.3,1207.4 635.2,1199.7 636.1,1206.9 637.0,1202.1 637.9,1211.0 638.8,1205.0 639.7,1209.3 640.6,1207.7 641.6,1212.9 642.5,1208.2 643.4,1210.7 644.3,1204.0 645.2,1208.7 646.1,1206.6 647.0,1210.4 647.9,1205.9 648.8,1209.6 649.7,1206.5 650.6,1211.8 651.5,1201.5 652.4,1209.1 653.3,1203.3 654.3,1209.4 655.2,1204.8 656.1,1211.5 657.0,1204.8 657.9,1208.4 658.8,1205.9 659.7,1209.9 660.6,1206.3 661.5,1208.1 662.4,1203.4 663.3,1211.7 664.2,1208.1 665.1,1211.2 666.0,1208.2 666.9,1213.4 667.9,1208.2 668.8,1211.7 669.7,1202.7 670.6,1211.8 671.5,1205.5 672.4,1209.7 673.3,1205.1 674.2,1208.1 675.1,1205.0 676.0,1211.3 676.9,1206.8 677.8,1212.0 678.7,1206.0 679.6,1211.6 680.5,1207.9 681.5,1209.2 682.4,1205.4 683.3,1206.9 684.2,1203.5 685.1,1212.5 686.0,1208.1 686.9,1211.2 687.8,1206.0 688.7,1209.8 689.6,1203.1 690.5,1208.9 691.4,1205.1 692.3,1209.1 693.2,1208.5 694.2,1212.3 695.1,1207.0 696.0,1209.2 696.9,1205.0 697.8,1205.7 698.7,1200.9 699.6,1203.5 700.5,1201.0 701.4,1206.4 702.3,1202.2 703.2,1204.9 704.1,1195.8 705.0,1196.8 705.9,1191.2 706.8,1192.9 707.8,1183.7 708.7,1184.4 709.6,1179.0 710.5,1175.4 711.4,1169.7 712.3,1172.2 713.2,1167.6 714.1,1169.7 715.0,1165.0 715.9,1169.8 716.8,1165.3 717.7,1171.7 718.6,1161.4 719.5,1157.7 720.4,1145.3 721.4,1140.4 722.3,1131.0 723.2,1127.7 724.1,1126.3 725.0,1127.3 725.9,1127.7 726.8,1132.8 727.7,1131.2 728.6,1141.2 729.5,1141.8 730.4,1151.3 731.3,1157.1 732.2,1171.5 733.1,1173.4 734.1,1184.9 735.0,1182.6 735.9,1188.9 736.8,1187.4 737.7,1192.5 738.6,1189.0 739.5,1191.4 740.4,1187.7 741.3,1191.7 742.2,1189.3 743.1,1191.5 744.0,1184.4 744.9,1188.6 745.8,1180.5 746.7,1179.6 747.7,1169.0 748.6,1171.3 749.5,1167.4 750.4,1169.0 751.3,1164.8 752.2,1163.7 753.1,1161.2 754.0,1162.9 754.9,1159.6 755.8,1166.8 756.7,1172.0 757.6,1179.2 758.5,1180.2 759.4,1185.7 760.3,1181.0 761.3,1181.6 762.2,1175.5 763.1,1178.5 764.0,1165.3 764.9,1167.0 765.8,1160.7 766.7,1160.7 767.6,1156.4 768.5,1158.9 769.4,1155.9 770.3,1156.4 771.2,1152.7 772.1,1150.5 773.0,1135.7 773.9,1133.6 774.9,1125.2 775.8,1124.8 776.7,1115.9 777.6,1117.9 778.5,1112.1 779.4,1110.8 780.3,1104.3 781.2,1099.3 782.1,1089.1 783.0,1088.1 783.9,1078.1 784.8,1074.0 785.7,1061.7 786.6,1054.1 787.6,1044.9 788.5,1038.1 789.4,1026.1 790.3,1020.8 791.2,1012.9 792.1,1007.2 792.9,998.9 793.9,1013.2 794.8,1017.2 795.7,1039.4 796.6,1068.6 797.5,1097.2 798.4,1118.5 799.3,1130.9 800.2,1135.9 801.2,1148.6 802.1,1147.2 803.0,1153.5 803.9,1148.1 804.8,1152.0 805.7,1150.5 806.6,1151.7 807.5,1147.9 808.4,1148.9 809.3,1144.0 810.2,1146.1 811.1,1141.3 812.0,1143.6 812.9,1141.9 813.8,1145.3 814.8,1140.2 815.7,1148.5 816.6,1155.8 817.5,1164.2 818.4,1167.6 819.3,1174.6 820.2,1173.3 821.1,1178.2 822.0,1178.2 822.9,1184.7 823.8,1179.3 824.7,1188.6 825.6,1184.6 826.5,1191.7 827.5,1186.4 828.4,1186.4 829.3,1174.6 830.2,1183.7 831.1,1178.5 832.0,1182.1 832.9,1178.9 833.8,1178.6 834.7,1174.7 835.6,1175.7 836.5,1172.6 837.4,1172.2 838.3,1164.7 839.2,1168.7 840.1,1162.8 841.1,1165.7 842.0,1163.0 842.9,1165.4 843.8,1163.3 844.7,1166.5 845.6,1162.5 846.5,1166.5 847.4,1162.2 848.3,1165.7 849.2,1163.3 850.1,1166.6 851.0,1161.0 851.9,1160.2 852.8,1147.4 853.7,1143.6 854.7,1132.5 855.6,1133.3 856.5,1128.8 857.4,1131.7 858.3,1127.4 859.2,1132.8 860.1,1125.3 861.0,1122.6 861.9,1114.2 862.8,1114.3 863.7,1108.0 864.6,1103.0 865.5,1098.3 866.4,1103.1 867.3,1098.3 868.3,1099.4 869.2,1097.8 870.1,1104.4 871.0,1105.7 871.9,1119.5 872.8,1124.9 873.7,1137.7 874.6,1140.1 875.5,1149.2 876.4,1151.8 877.3,1159.4 878.2,1161.0 879.1,1170.6 880.0,1165.9 881.0,1171.8 881.9,1162.3 882.8,1167.5 883.7,1166.3 884.6,1168.6 885.5,1165.8 886.4,1169.7 887.3,1170.6 888.2,1176.2 889.1,1174.3 890.0,1177.4 890.9,1174.8 891.8,1180.7 892.7,1176.4 893.6,1184.4 894.6,1179.6 895.5,1184.8 896.4,1183.8 897.3,1186.6 898.2,1185.0 899.1,1187.3 900.0,1184.2 900.9,1188.0 901.8,1183.9 902.7,1188.2 903.6,1181.0 904.5,1184.9 905.4,1178.3 906.3,1184.5 907.2,1179.8 908.2,1182.8 909.1,1180.4 910.0,1185.1 910.9,1182.3 911.8,1188.0 912.7,1182.8 913.6,1184.5 914.5,1180.4 915.4,1182.6 916.3,1179.6 917.2,1185.2 918.1,1177.6 919.0,1178.6 919.9,1178.0 920.9,1184.3 921.8,1183.2 922.7,1189.3 923.0,1190.4 923.6,1187.9 924.5,1186.3 925.4,1180.5 926.3,1180.7 927.2,1178.9 928.1,1183.6 929.0,1177.4 929.9,1183.3 930.8,1177.2 931.7,1180.6 932.6,1175.7 933.5,1176.3 934.5,1173.2 935.4,1175.5 936.3,1169.0 937.2,1175.1 938.1,1169.1 939.0,1174.9 939.9,1168.3 940.8,1171.1 941.7,1165.3 942.6,1165.2 943.5,1159.6 944.4,1161.9 945.3,1157.3 946.2,1156.8 947.1,1154.4 948.1,1159.0 949.0,1155.3 949.9,1162.0 950.8,1150.0 951.7,1155.0 952.6,1150.3 953.5,1152.9 954.4,1148.5 955.3,1150.9 956.2,1149.5 957.1,1153.4 958.0,1150.3 958.9,1154.5 959.8,1152.8 960.8,1156.9 961.7,1151.5 962.6,1159.7 963.5,1156.6 964.4,1158.9 965.3,1157.2 966.2,1163.3 967.1,1157.9 968.0,1163.7 968.9,1158.4 969.8,1161.2 970.7,1157.0 971.6,1158.0 972.5,1155.2 973.4,1157.3 974.4,1154.9 975.3,1160.6 976.2,1157.5 977.1,1161.4 978.0,1159.6 978.9,1163.0 979.8,1154.8 980.7,1161.1 981.6,1159.7 982.5,1160.4 983.4,1157.2 984.3,1158.1 985.2,1153.0 986.1,1155.9 987.0,1151.1 988.0,1152.9 988.9,1147.7 989.8,1152.7 990.7,1148.6 991.6,1154.4 992.5,1144.2 993.4,1149.5 994.3,1146.2 995.2,1145.4 996.1,1142.2 997.0,1141.0 997.9,1135.7 998.8,1139.0 999.7,1133.3 1000.6,1137.0 1001.6,1130.0 1002.5,1133.6 1003.4,1126.0 1004.3,1124.3 1005.2,1115.2 1006.1,1123.1 1007.0,1116.2 1007.9,1122.4 1008.8,1125.0 1009.7,1135.0 1010.6,1128.8 1011.5,1135.4 1012.4,1131.3 1013.3,1135.2 1014.3,1130.0 1015.2,1135.4 1016.1,1129.3 1017.0,1133.3 1017.9,1126.2 1018.8,1129.2 1019.7,1125.6 1020.6,1125.3 1021.5,1115.5 1022.4,1120.7 1023.3,1114.7 1024.2,1126.1 1025.1,1128.6 1026.0,1131.6 1026.9,1128.2 1027.9,1138.6 1028.8,1132.4 1029.7,1137.2 1030.6,1132.8 1031.5,1141.2 1032.4,1137.9 1033.3,1142.2 1034.2,1135.6 1035.1,1138.2 1036.0,1126.4 1036.9,1131.1 1037.8,1126.3 1038.7,1129.0 1039.6,1121.4 1040.5,1124.1 1041.5,1113.9 1042.4,1117.8 1043.3,1108.4 1044.2,1109.6 1045.1,1104.0 1046.0,1105.0 1046.9,1095.6 1047.8,1097.0 1048.7,1088.2 1049.6,1087.9 1050.5,1080.5 1051.4,1081.2 1052.3,1067.6 1053.2,1064.6 1054.2,1054.4 1055.1,1054.3 1056.0,1045.4 1056.9,1041.8 1057.8,1028.7 1058.7,1028.6 1059.6,1023.1 1060.5,1023.6 1061.4,1021.7 1062.3,1025.8 1063.2,1026.0 1064.1,1038.7 1065.0,1042.7 1065.9,1056.2 1066.8,1060.1 1067.8,1077.6 1068.7,1078.3 1069.6,1088.8 1070.5,1092.5 1071.4,1099.2 1072.3,1099.9 1073.2,1109.2 1074.1,1107.0 1075.0,1114.0 1075.9,1109.9 1076.8,1112.8 1077.7,1105.0 1078.6,1116.1 1079.5,1111.0 1080.4,1120.3 1081.4,1111.6 1082.3,1118.7 1083.2,1113.8 1084.1,1118.6 1085.0,1113.5 1085.9,1114.0 1086.8,1108.0 1087.7,1110.0 1088.6,1103.6 1089.5,1108.7 1090.4,1099.2 1091.3,1103.3 1092.2,1099.9 1093.1,1100.8 1094.0,1093.8 1095.0,1096.0 1095.9,1088.1 1096.8,1093.7 1097.7,1085.7 1098.6,1090.2 1099.5,1083.5 1100.4,1087.0 1101.3,1080.9 1102.2,1086.1 1103.1,1078.4 1104.0,1078.8 1104.9,1070.9 1105.8,1080.0 1106.7,1079.9 1107.7,1083.9 1108.6,1080.6 1109.5,1082.7 1110.4,1079.8 1111.3,1081.3 1112.2,1080.5 1113.1,1080.1 1114.0,1066.9 1114.9,1059.9 1115.8,1050.2 1116.7,1043.2 1117.6,1031.2 1118.5,1024.0 1119.4,1012.3 1120.3,1005.6 1121.3,988.0 1122.2,982.4 1122.5,978.3 1123.1,980.7 1124.0,987.7 1124.9,991.3 1125.8,999.1 1126.7,999.4 1127.6,1004.0 1128.5,1002.5 1129.4,996.3 1130.3,985.5 1131.2,975.8 1132.1,951.7 1133.0,929.5 1133.9,901.0 1134.9,896.5 1135.8,897.9 1136.7,910.0 1137.6,922.9 1138.5,938.3 1139.4,949.5 1140.3,964.5 1141.2,977.5 1142.1,992.9 1143.0,1002.6 1143.9,1015.9 1144.8,1018.3 1145.7,1021.8 1146.6,1021.5 1147.6,1021.5 1148.5,1011.2 1149.4,1010.0 1150.3,1002.9 1151.2,1000.2 1152.1,993.5 1153.0,990.0 1153.9,977.8 1154.8,968.0 1155.7,956.8 1156.6,945.0 1157.5,931.0 1158.4,921.4 1159.3,916.7 1160.2,915.9 1161.2,910.9 1162.1,909.9 1163.0,902.7 1163.9,898.0 1164.8,880.4 1165.7,860.6 1166.6,837.3 1167.5,814.0 1168.4,781.8 1169.3,757.5 1170.2,747.7 1171.1,740.2 1172.0,721.1 1172.9,709.3 1173.4,703.0 1173.8,711.2 1174.8,736.6 1175.7,753.1 1176.6,775.3 1177.5,798.5 1178.4,848.5 1179.3,890.9 1180.2,926.9 1181.1,950.5 1182.0,973.7 1182.9,990.3 1183.8,1008.5 1184.7,1020.1 1185.6,1031.6 1186.5,1036.8 1187.5,1042.8 1188.4,1045.4 1189.3,1049.8 1190.2,1050.2 1191.1,1054.2 1192.0,1048.0 1192.9,1049.5 1193.8,1046.5 1194.7,1050.0 1195.6,1048.0 1196.5,1051.6 1197.4,1051.5 1198.3,1055.4 1199.2,1054.5 1200.1,1056.6 1201.1,1054.4 1202.0,1055.1 1202.9,1048.7 1203.8,1043.1 1204.7,1036.3 1205.6,1031.0 1206.5,1022.5 1207.4,1016.0 1208.3,1005.1 1209.2,991.4 1210.1,973.6 1211.0,952.8 1211.9,926.1 1212.8,909.3 1213.7,893.2 1214.7,886.0 1215.6,877.0 1216.5,871.0 1217.4,867.6 1218.3,869.6 1219.2,867.8 1220.1,871.3 1221.0,885.4 1221.9,900.6 1222.8,909.5 1223.7,921.8 1224.6,931.2 1225.5,949.3 1226.4,962.9 1227.3,980.9 1228.3,995.6 1229.2,1010.7 1230.1,1020.6 1231.0,1033.5 1231.9,1040.9 1232.8,1051.1 1233.7,1051.3 1234.6,1054.4 1235.5,1055.2 1236.4,1058.4 1237.3,1056.4 1238.2,1061.0 1239.1,1058.4 1240.0,1063.6 1241.0,1064.7 1242.1,1069.1 1242.8,1064.9 1243.7,1060.6 1244.6,1055.0 1245.5,1052.1 1246.4,1049.2 1247.3,1048.6 1248.2,1044.4 1249.1,1044.6 1250.0,1041.6 1250.9,1045.5 1251.8,1047.9 1252.7,1053.7 1253.6,1052.1 1254.6,1054.3 1255.5,1052.5 1256.4,1056.5 1257.3,1052.6 1258.2,1056.2 1259.1,1051.6 1260.0,1051.0 1260.9,1048.0 1261.8,1046.5 1262.7,1043.7 1263.6,1045.2 1264.5,1040.0 1265.4,1042.0 1266.3,1035.0 1267.2,1031.9 1268.2,1024.0 1269.1,1008.5 1270.0,992.1 1270.9,980.3 1271.8,965.2 1272.7,952.2 1273.6,931.8 1274.5,913.6 1275.4,905.0 1276.3,902.4 1277.2,902.4 1278.1,908.9 1279.0,915.3 1279.9,925.4 1280.9,935.0 1281.8,945.2 1282.7,950.0 1283.6,938.6 1284.5,917.1 1285.4,905.2 1286.3,890.5 1287.2,888.6 1288.1,887.1 1289.0,893.0 1289.9,900.4 1290.8,931.1 1291.7,959.4 1292.6,968.3 1293.5,972.0 1294.5,979.0 1295.4,988.7 1296.3,996.7 1297.2,995.8 1298.1,999.2 1299.0,997.9 1299.9,998.2 1300.8,995.3 1301.7,995.8 1302.6,980.5 1303.5,969.7 1304.4,955.3 1305.3,941.2 1306.2,919.5 1307.1,901.3 1308.1,882.7 1309.0,866.6 1309.9,847.9 1310.8,835.7 1311.7,821.2 1312.6,807.4 1313.5,783.5 1314.4,758.6 1315.3,721.5 1316.2,693.6 1317.1,654.3 1318.0,569.6 1318.9,503.9 1319.8,436.5 1320.7,366.2 1321.7,298.0 1322.8,259.0 1323.5,270.2 1324.4,307.0 1325.3,410.2 1326.2,484.2 1327.1,641.0 1328.0,692.8 1328.9,728.4 1329.8,782.4 1330.7,840.4 1331.6,881.2 1332.5,915.8 1333.4,927.3 1334.4,941.8 1335.3,955.2 1336.2,966.1 1337.1,973.5 1338.0,982.5 1338.9,985.3 1339.8,992.5 1340.7,995.6 1341.6,1001.8 1342.5,1004.9 1343.4,1009.9 1344.3,1011.7 1345.2,1017.2 1346.1,1019.8 1347.0,1026.0 1348.0,1028.2 1348.9,1034.5 1349.8,1036.1 1350.7,1037.6 1351.6,1031.8 1352.5,1031.7 1353.4,1021.0 1354.3,1005.8 1355.2,995.9 1356.1,995.1 1357.0,987.6 1357.9,983.2 1358.8,971.4 1359.7,963.7 1360.6,948.4 1361.6,932.8 1362.5,913.9 1363.4,902.4 1364.3,887.9 1365.2,876.8 1366.1,867.5 1366.7,865.3 1367.9,876.7 1368.8,890.7 1369.7,900.8 1370.6,916.4 1371.5,926.8 1372.4,945.2 1373.3,951.2 1374.3,963.9 1375.2,975.2 1376.1,991.4 1377.0,999.8 1377.9,1006.5 1378.8,1007.1 1379.7,1011.6 1380.6,1014.6 1381.5,1020.7 1382.4,1017.0 1383.3,1018.9 1384.2,1013.0 1385.1,1013.4 1386.0,1008.9 1386.9,1007.9 1387.9,1001.8 1388.8,1001.6 1389.7,991.5 1390.6,990.0 1391.5,980.7 1392.4,975.5 1393.3,963.5 1394.2,961.1 1395.1,953.8 1396.0,953.7 1396.9,943.1 1397.8,940.7 1398.7,932.0 1399.6,930.0 1400.5,914.4 1401.5,912.3 1402.4,905.6 1403.3,906.0 1403.7,903.0 1404.2,902.3 1405.1,917.8 1406.0,921.3 1406.9,926.9 1407.8,923.9 1408.7,928.8 1409.6,934.0 1410.5,948.0 1411.4,948.3 1412.3,957.6 1413.2,956.4 1414.2,970.5 1415.1,974.9 1416.0,985.6 1416.9,987.0 1417.8,994.4 1418.7,994.2 1419.6,1003.5 1420.5,1007.7 1421.4,1010.5 1422.3,1006.9 1423.2,1007.3 1424.1,1004.8 1425.0,1007.2 1425.9,999.3 1426.8,1003.3 1427.8,993.4 1428.7,988.8 1429.6,979.2 1430.5,979.9 1431.4,971.3 1432.3,972.8 1433.2,965.1 1434.1,965.3 1435.0,960.6 1435.9,950.9 1436.8,937.4 1437.7,937.5 1438.6,926.5 1439.5,934.3 1440.4,929.4 1441.4,937.8 1442.3,941.9 1443.2,947.8 1444.1,950.4 1445.0,960.5 1445.9,965.0 1446.8,975.4 1447.7,976.1 1448.6,987.0 1449.5,989.7 1450.4,1006.3 1451.3,1000.5 1452.2,1013.8 1453.1,1017.3 1454.0,1026.3 1455.0,1026.3 1455.9,1039.8 1456.8,1036.3 1457.7,1045.9 1458.6,1036.6 1459.5,1050.5 1460.4,1044.4 1461.3,1046.4 1462.2,1044.8 1463.1,1048.7 1464.0,1040.2 1464.9,1049.9 1465.8,1046.9 1466.7,1049.6 1467.7,1046.7 1468.6,1051.4 1469.5,1048.0 1470.4,1054.6 1471.3,1051.2 1472.2,1057.1 1473.1,1053.3 1474.0,1055.5 1474.9,1049.5 1475.8,1051.5 1476.7,1048.9 1477.6,1058.4 1478.5,1052.9 1479.4,1059.8 1480.3,1056.5 1481.3,1064.3 1482.2,1055.3 1483.1,1067.6 1484.0,1064.9 1484.9,1068.0 1485.8,1065.9 1486.7,1066.6 1487.6,1063.3 1488.5,1066.8 1489.4,1059.0 1490.3,1069.8 1491.2,1062.4 1492.1,1067.9 1493.0,1059.6 1493.9,1079.4 1494.9,1074.1 1495.8,1080.2 1496.7,1074.5 1497.6,1087.7 1498.5,1076.5 1499.4,1080.3 1500.3,1077.6 1501.2,1083.7 1502.1,1081.4 1503.0,1086.7 1503.9,1078.0 1504.8,1092.5 1505.7,1084.0 1506.6,1089.7 1507.6,1087.1 1508.5,1093.3 1509.4,1088.3 1510.3,1092.2 1511.2,1087.7 1512.1,1087.9 1513.0,1083.0 1513.9,1087.1 1514.8,1078.3 1515.7,1091.3 1516.6,1081.2 1517.5,1089.7 1518.4,1076.1 1519.3,1081.3 1520.2,1075.9 1521.2,1087.9 1522.1,1071.2 1523.0,1081.6 1523.9,1078.3 1524.8,1085.3 1525.7,1078.7 1526.6,1085.2 1527.5,1083.4 1528.4,1094.2 1529.3,1078.3 1530.2,1090.4 1531.1,1087.8 1532.0,1090.1 1532.9,1082.7 1533.8,1091.5 1534.8,1085.1 1535.7,1095.0 1536.6,1092.4 1537.5,1096.5 1538.4,1090.8 1539.3,1102.9 1540.2,1093.1 1541.1,1098.4 1542.0,1094.9 1542.9,1098.2 1543.8,1094.3 1544.7,1097.6 1545.6,1091.1 1546.5,1097.6 1547.4,1088.0 1548.4,1094.9 1549.3,1091.3 1550.2,1096.6 1551.1,1090.7 1552.0,1096.9 1552.9,1089.1 1553.8,1102.7 1554.7,1097.8 1555.6,1105.3 1556.5,1097.7 1557.4,1105.9 1558.3,1100.9 1559.2,1104.4 1560.1,1099.9 1561.1,1108.3 1562.0,1096.9 1562.9,1101.6 1563.8,1090.7 1564.7,1103.6 1565.6,1084.3 1566.5,1095.5 1567.4,1086.5 1568.3,1094.9 1569.2,1081.6 1570.1,1080.9 1571.0,1070.1 1571.9,1072.2 1572.8,1060.0 1573.7,1059.7 1574.7,1047.7 1575.6,1034.3 1576.5,1042.7 1577.4,1058.7 1578.3,1050.1 1579.2,1060.9 1580.1,1061.1 1581.0,1073.7 1581.9,1064.1 1582.8,1073.5 1583.7,1072.3 1584.6,1081.6 1585.5,1075.5 1586.4,1088.3 1587.3,1091.7 1588.3,1099.5 1589.2,1091.0 1590.1,1098.2 1591.0,1092.8 1591.9,1099.1 1592.8,1086.7 1593.7,1094.5 1594.6,1085.5 1595.5,1092.4 1596.4,1088.1 1597.3,1088.4 1598.2,1082.9 1599.1,1084.3 1600.0,1078.2 1601.0,1077.6 1601.9,1067.5 1602.8,1070.5 1603.7,1063.1 1604.6,1069.0 1605.5,1060.6 1606.4,1061.6 1607.3,1051.4 1608.0,1050.3 1609.1,1052.2 1610.0,1064.9 1610.9,1052.9 1611.8,1070.1 1612.7,1068.2 1613.6,1074.5 1614.6,1069.6 1615.5,1086.3 1616.4,1081.9 1617.3,1089.8 1618.2,1088.4 1619.1,1096.9 1620.0,1093.5 1620.9,1098.5 1621.8,1093.4 1622.7,1104.8 1623.6,1097.8 1624.5,1100.3 1625.4,1092.1 1626.3,1103.4 1627.2,1095.9 1628.2,1097.0 1629.1,1095.0 1630.0,1105.2 1630.9,1097.8 1631.8,1107.0 1632.7,1097.6 1633.6,1103.7 1634.5,1094.9 1635.4,1099.4 1636.3,1092.0 1637.2,1099.6 1638.1,1089.5 1639.0,1096.7 1639.9,1087.2 1640.9,1101.3 1641.8,1088.4 1642.7,1099.7 1643.6,1092.7 1644.5,1087.3 1645.4,1070.9 1646.3,1073.8 1647.2,1063.2 1648.1,1066.3 1649.0,1051.2 1649.9,1053.4 1650.8,1035.8 1651.7,1037.8 1652.6,1029.6 1653.5,1028.3 1654.5,1015.5 1655.4,1017.3 1656.3,1014.8 1657.2,1018.6 1658.1,1007.1 1659.0,1020.0 1659.9,1022.1 1660.8,1033.4 1661.7,1030.9 1662.6,1048.3 1663.5,1046.9 1664.4,1065.2 1665.3,1056.4 1666.2,1071.2 1667.1,1066.0 1668.1,1083.4 1669.0,1075.8 1669.9,1086.5 1670.8,1080.7 1671.7,1087.9 1672.6,1079.9 1673.5,1087.5 1674.4,1078.7 1675.3,1086.4 1676.2,1078.2 1677.1,1086.7 1678.0,1081.5 1678.9,1089.4 1679.8,1081.9 1680.7,1086.7 1681.7,1081.1 1682.6,1087.0 1683.5,1074.9 1684.4,1086.2 1685.3,1076.3 1686.2,1086.0 1687.1,1080.3 1688.0,1082.5 1688.9,1078.5 1689.8,1088.6 1690.7,1072.7 1691.6,1082.2 1692.5,1070.0 1693.4,1082.7 1694.4,1074.4 1695.3,1077.1 1696.2,1071.9 1697.1,1074.8 1698.0,1065.0 1698.9,1068.3 1699.8,1063.8 1700.7,1071.6 1701.6,1060.7 1702.5,1063.5 1703.4,1053.1 1704.3,1059.1 1705.2,1060.1 1706.1,1067.4 1707.0,1065.6 1708.0,1073.2 1708.9,1065.3 1709.8,1074.4 1710.7,1066.0 1711.6,1070.4 1712.5,1068.4 1713.4,1071.2 1714.3,1064.8 1715.2,1068.9 1716.1,1062.7 1717.0,1068.4 1717.9,1065.2 1718.8,1072.7 1719.7,1067.7 1720.6,1070.5 1721.6,1068.2 1722.5,1077.7 1723.4,1068.7 1724.3,1074.7 1725.2,1065.3 1726.1,1069.7 1727.0,1062.8 1727.9,1065.6 1728.8,1063.0 1729.7,1070.3 1730.6,1062.2 1731.5,1068.2 1732.4,1065.3 1733.3,1071.8 1734.3,1069.1 1735.2,1075.1 1736.1,1070.3 1737.0,1079.3 1737.9,1072.2 1738.8,1076.6 1739.7,1067.0 1740.6,1078.6 1741.5,1076.6 1742.4,1083.6 1743.3,1077.7 1744.2,1083.2 1745.1,1077.9 1746.0,1083.0 1746.9,1078.0 1747.9,1086.7 1748.8,1080.4 1749.7,1083.8 1750.6,1076.0 1751.5,1085.2 1752.4,1082.0 1753.3,1094.4 1754.2,1084.8 1755.1,1093.7 1756.0,1088.0 1756.9,1100.6 1757.8,1092.3 1758.7,1095.6 1759.6,1086.7 1760.5,1100.2 1761.5,1096.2 1762.4,1102.7 1763.3,1094.3 1764.2,1106.1 1765.1,1094.3 1766.0,1107.2 1766.9,1096.6 1767.8,1111.4 1768.7,1103.9 1769.6,1107.9 1770.5,1102.8 1771.4,1105.4 1772.3,1098.0 1773.2,1106.1 1774.1,1100.1 1775.1,1108.4 1776.0,1100.4 1776.9,1105.9 1777.8,1103.3 1778.7,1105.2 1779.6,1101.5 1780.5,1102.3 1781.4,1098.6 1782.3,1102.4 1783.2,1099.0 1784.1,1102.4 1785.0,1097.3 1785.9,1100.0 1786.8,1092.0 1787.8,1098.1 1788.7,1086.6 1789.6,1088.8 1790.5,1083.7 1791.4,1089.2 1792.3,1077.3 1793.2,1086.0 1794.1,1075.5 1795.0,1083.9 1795.9,1079.7 1796.8,1089.2 1797.7,1088.4 1798.6,1096.6 1799.5,1094.3 1800.4,1104.1 1801.4,1094.6 1802.3,1104.5 1803.2,1105.5 1804.1,1112.5 1805.0,1108.6 1805.9,1113.5 1806.8,1105.2 1807.7,1111.0 1808.6,1107.6 1809.5,1117.9 1810.4,1111.7 1811.3,1116.7 1812.2,1116.5 1813.1,1126.1 1814.0,1111.6 1815.0,1120.9 1815.9,1117.3 1816.8,1118.9 1817.7,1108.7 1818.6,1111.6 1819.5,1104.8 1820.4,1106.4 1821.3,1095.4 1822.2,1102.3 1823.1,1092.3 1824.0,1101.0 1824.9,1092.1 1825.8,1097.4 1826.7,1088.5 1827.7,1091.8 1828.6,1092.0 1829.5,1096.9 1830.4,1092.0 1831.3,1101.3 1832.2,1101.4 1833.1,1111.0 1834.0,1106.1 1834.9,1119.3 1835.8,1113.5 1836.7,1115.8 1837.6,1113.5 1838.5,1116.8 1839.4,1113.6 1840.3,1122.5 1841.3,1114.8 1842.2,1125.5 1843.1,1125.5 1844.0,1130.0 1844.9,1122.4 1845.8,1126.0 1846.7,1119.9 1847.6,1129.8 1848.5,1115.2 1849.4,1123.8 1850.3,1109.0 1851.2,1110.7 1852.1,1100.8 1853.0,1102.1 1853.9,1087.8 1854.9,1086.8 1855.8,1077.2 1856.7,1075.9 1857.6,1066.6 1858.5,1065.1 1859.4,1058.6 1860.3,1060.1 1861.2,1053.9 1862.1,1065.3 1863.0,1063.9 1863.9,1076.3 1864.8,1070.3 1865.7,1080.7 1866.6,1077.4 1867.6,1089.3 1868.5,1092.6 1869.4,1103.5 1870.3,1102.5 1871.2,1113.9 1872.1,1104.3 1873.0,1113.6 1873.9,1112.8 1874.8,1121.2 1875.7,1117.1 1876.6,1124.7 1877.5,1119.4 1878.4,1123.6 1879.3,1121.2 1880.2,1123.4 1881.2,1116.7 1882.1,1126.5 1883.0,1113.2 1883.9,1116.2 1884.8,1111.5 1885.7,1117.2 1886.6,1111.7 1887.5,1119.9 1888.4,1113.4 1889.3,1120.2 1890.2,1111.1 1891.1,1115.2 1892.0,1113.0 1892.9,1118.0 1893.8,1109.1 1894.8,1120.7 1895.7,1112.8 1896.6,1122.6 1897.5,1107.4 1898.4,1118.7 1899.3,1113.5 1900.2,1122.6 1901.1,1113.3 1902.0,1122.9 1902.9,1117.7 1903.8,1126.5 1904.7,1116.6 1905.6,1124.7 1906.5,1113.3 1907.4,1120.4 1908.4,1108.4 1909.3,1125.8 1910.2,1125.9 1911.1,1133.8 1912.0,1122.8 1912.9,1127.6 1913.8,1122.5 1914.7,1126.5 1915.6,1120.3 1916.5,1129.6 1917.4,1122.0 1918.3,1124.1 1919.2,1116.7 1920.1,1124.3 1921.1,1121.7 1922.0,1125.4 1922.9,1121.7 1923.8,1124.8 1924.7,1116.4 1925.6,1123.1 1926.5,1122.5 1927.4,1126.3 1928.3,1122.7 1929.2,1134.2 1930.1,1124.1 1931.0,1138.6 1931.9,1129.5 1932.8,1137.8 1933.7,1126.9 1934.7,1131.1 1935.6,1120.4 1936.5,1133.1 1937.4,1127.4 1938.3,1134.4 1939.2,1129.8 1940.1,1146.8 1941.0,1138.6 1941.9,1140.9 1942.8,1134.7 1943.7,1136.5 1944.6,1127.9 1945.5,1138.1 1946.4,1133.7 1947.3,1138.3 1948.3,1132.4 1949.2,1142.6 1950.1,1134.0 1951.0,1150.1 1951.9,1138.5 1952.8,1147.6 1953.7,1133.7 1954.6,1133.2"/>
<polyline class="curve" stroke="#008000" stroke-width="4.6" points="277.0,734.7 277.9,730.6 278.8,743.2 279.7,743.7 280.7,750.0 281.6,746.3 282.5,749.9 283.4,755.9 284.3,765.7 285.2,764.7 286.1,770.0 287.0,765.8 287.9,775.7 288.8,775.6 289.7,785.8 290.6,783.2 291.5,793.6 292.4,793.5 293.3,801.1 294.3,801.1 295.2,806.7 296.1,805.2 297.0,813.2 297.9,810.6 298.8,819.0 299.7,818.4 300.6,825.4 301.5,825.3 302.4,832.8 303.3,830.7 304.2,834.7 305.1,834.5 306.0,838.7 306.9,839.0 307.9,844.2 308.8,842.5 309.7,850.1 310.6,843.7 311.5,849.2 312.4,852.9 313.3,859.6 314.2,857.7 315.1,861.8 316.0,861.9 316.9,871.5 317.8,870.5 318.7,879.4 319.6,877.7 320.5,887.3 321.5,884.7 322.4,893.6 323.3,890.1 324.2,898.7 325.1,894.0 326.0,900.5 326.9,898.5 327.8,905.1 328.7,900.6 329.6,906.6 330.5,901.1 331.4,913.2 332.3,907.1 333.2,914.2 334.2,916.0 335.1,920.2 336.0,916.4 336.9,919.6 337.8,914.7 338.7,922.2 339.6,916.6 340.5,927.8 341.4,922.6 342.3,923.2 343.2,921.3 344.1,921.6 345.0,918.4 345.9,923.9 346.8,920.3 347.8,924.9 348.7,924.1 349.6,928.1 350.5,924.1 351.4,927.7 352.3,925.1 353.2,927.0 354.1,920.0 355.0,923.8 355.9,919.9 356.8,923.0 357.7,919.8 358.6,924.5 359.5,923.3 360.4,930.2 361.4,917.7 362.3,927.5 363.2,921.1 364.1,924.3 365.0,916.4 365.9,919.2 366.8,916.2 367.7,924.2 368.6,915.2 369.5,922.7 370.4,916.7 371.3,922.4 372.2,916.0 373.1,917.1 374.1,912.6 375.0,917.9 375.9,915.5 376.8,918.2 377.7,913.4 378.6,917.2 379.5,912.6 380.4,919.5 381.3,913.2 382.2,921.0 383.1,911.6 384.0,914.8 384.9,905.1 385.8,910.8 386.7,906.0 387.7,909.7 388.6,905.1 389.5,909.7 390.4,901.4 391.3,912.7 392.2,907.8 393.1,913.8 394.0,908.3 394.9,913.4 395.8,904.6 396.7,909.2 397.6,906.0 398.5,906.5 399.4,901.5 400.3,907.5 401.3,899.2 402.2,904.6 403.1,900.4 404.0,904.9 404.9,902.8 405.8,905.5 406.7,902.5 407.6,902.6 408.5,898.0 409.4,899.4 410.3,896.0 411.2,900.2 412.1,898.1 413.0,899.6 413.9,886.5 414.9,890.9 415.8,886.0 416.7,893.2 417.6,889.5 418.5,893.3 419.4,889.0 420.3,888.8 421.2,880.6 422.1,887.6 423.0,882.7 423.9,884.6 424.8,879.0 425.7,885.3 426.6,879.7 427.6,881.1 428.5,874.3 429.4,878.6 430.3,872.2 431.2,873.8 432.1,868.6 433.0,868.8 433.9,864.2 434.8,865.8 435.7,859.7 436.6,861.3 437.5,849.8 438.4,854.7 439.3,846.1 440.2,848.1 441.2,839.1 442.1,845.9 443.0,839.2 443.9,844.0 444.8,838.5 445.7,841.6 446.6,835.5 447.5,835.6 448.4,829.4 449.3,830.8 450.2,823.9 451.1,823.1 452.0,819.4 452.9,819.8 453.8,814.6 454.8,813.4 455.7,806.7 456.6,810.7 457.5,803.2 458.4,806.1 459.3,797.9 460.2,797.6 461.1,792.1 462.0,790.9 462.9,784.0 463.8,781.0 464.7,772.9 465.6,769.7 466.5,763.0 467.5,760.7 468.4,752.1 469.3,749.5 469.6,745.0 470.2,750.5 471.1,762.4 472.0,783.0 472.9,806.9 473.8,814.6 474.7,830.2 475.6,834.6 476.5,839.7 477.4,839.2 478.3,844.7 479.2,844.9 480.1,851.0 481.1,848.1 482.0,856.9 482.9,854.9 483.8,859.2 484.7,855.4 485.6,860.2 486.5,855.2 487.4,857.3 488.3,852.6 489.2,857.1 490.1,850.8 491.0,853.7 491.9,849.3 492.8,850.2 493.7,841.0 494.7,841.0 495.6,835.1 496.5,835.1 497.4,825.1 498.3,825.6 499.2,818.5 500.1,817.8 501.0,809.7 501.9,811.3 502.8,808.3 503.7,810.5 504.6,801.6 505.5,807.2 506.4,808.4 507.4,810.8 508.3,810.1 509.2,816.5 510.1,817.0 511.0,822.3 511.9,822.0 512.8,826.7 513.7,826.1 514.6,828.3 515.5,826.8 516.4,834.0 517.3,834.9 518.2,841.7 519.1,839.5 520.0,842.4 521.0,841.1 521.9,844.0 522.8,843.7 523.7,845.7 524.6,842.0 525.5,851.7 526.4,850.4 527.3,854.8 528.2,852.2 529.1,853.3 530.0,850.5 530.9,850.9 531.8,846.9 532.7,848.8 533.6,842.8 534.6,852.5 535.5,850.1 536.4,854.1 537.3,849.0 538.2,848.4 539.1,839.1 540.0,847.2 540.9,841.7 541.8,846.0 542.7,843.7 543.6,848.1 544.5,842.1 545.4,840.9 546.3,831.8 547.2,835.3 548.2,831.8 549.1,835.2 550.0,825.6 550.9,822.6 551.8,813.2 552.7,811.6 553.6,805.4 554.5,801.8 555.4,792.6 556.3,788.3 557.2,776.4 558.1,770.4 559.0,757.9 559.9,745.4 560.9,730.7 561.8,719.2 562.7,694.1 563.6,672.0 564.5,597.7 565.4,553.5 566.3,517.1 567.2,493.1 568.1,472.9 569.3,454.6 569.9,464.2 570.8,479.6 571.7,521.7 572.6,596.3 573.5,648.2 574.5,675.4 575.4,705.2 576.3,723.3 577.2,738.1 578.1,757.3 579.0,762.9 579.9,770.8 580.8,772.9 581.7,775.0 582.6,766.5 583.5,766.5 584.4,764.1 585.3,766.2 586.2,761.8 587.1,763.7 588.1,758.0 589.0,756.7 589.9,749.9 590.8,749.0 591.7,742.2 592.6,746.0 593.5,737.9 594.4,742.9 595.3,739.6 596.2,742.1 597.1,737.4 598.0,739.1 598.9,734.9 599.8,735.0 600.8,734.9 601.7,746.9 602.6,749.6 603.5,758.9 604.4,762.7 605.3,774.5 606.2,772.1 607.1,780.4 608.0,781.1 608.9,789.5 609.8,788.4 610.7,797.1 611.6,795.8 612.5,801.7 613.4,799.1 614.4,810.6 615.3,808.3 616.2,815.9 617.1,815.8 618.0,822.4 618.9,818.4 619.8,821.2 620.7,823.1 621.6,827.8 622.5,824.2 623.4,829.8 624.3,827.9 625.2,838.8 626.1,830.3 627.0,833.5 628.0,827.3 628.9,831.6 629.8,824.9 630.7,831.3 631.6,823.9 632.5,838.7 633.4,833.9 634.3,842.8 635.2,837.5 636.1,849.2 637.0,843.0 637.9,847.2 638.8,844.7 639.7,852.0 640.6,847.8 641.6,845.0 642.5,835.4 643.4,843.4 644.3,836.7 645.2,845.2 646.1,835.4 647.0,845.9 647.9,840.5 648.8,851.0 649.7,844.3 650.6,847.8 651.5,839.6 652.4,847.0 653.3,842.4 654.3,845.9 655.2,840.2 656.1,851.8 657.0,844.7 657.9,848.8 658.8,841.8 659.7,846.1 660.6,843.0 661.5,850.2 662.4,841.3 663.3,844.7 664.2,840.8 665.1,844.9 666.0,844.4 666.9,847.7 667.9,844.6 668.8,852.4 669.7,846.9 670.6,852.4 671.5,843.7 672.4,850.6 673.3,844.8 674.2,849.4 675.1,841.7 676.0,845.9 676.9,843.2 677.8,850.2 678.7,845.9 679.6,858.6 680.5,841.5 681.5,850.3 682.4,843.0 683.3,847.4 684.2,842.0 685.1,846.1 686.0,840.0 686.9,843.2 687.8,839.5 688.7,846.3 689.6,842.8 690.5,848.6 691.4,844.2 692.3,844.9 693.2,837.2 694.2,844.5 695.1,839.8 696.0,850.0 696.9,840.7 697.8,845.2 698.7,838.9 699.6,844.1 700.5,837.5 701.4,844.7 702.3,833.8 703.2,840.2 704.1,832.2 705.0,837.7 705.9,827.2 706.8,827.0 707.8,820.2 708.7,824.6 709.6,807.3 710.5,814.6 711.4,800.4 712.3,795.8 713.2,778.5 714.1,782.7 715.0,777.9 715.9,786.4 716.8,787.6 717.7,794.4 718.6,787.7 719.5,787.2 720.4,779.2 721.4,779.6 722.3,750.2 723.2,748.7 724.2,736.9 725.0,746.5 725.9,757.4 726.8,773.4 727.7,778.0 728.6,791.9 729.5,797.6 730.4,804.7 731.3,808.7 732.2,818.4 733.1,816.9 734.1,819.9 735.0,816.4 735.9,822.0 736.8,819.2 737.7,822.5 738.6,821.6 739.5,826.4 740.4,821.2 741.3,825.5 742.2,823.8 743.1,828.6 744.0,823.6 744.9,829.1 745.8,821.3 746.7,823.6 747.7,814.7 748.6,815.3 749.5,805.1 750.4,806.6 751.3,798.9 752.2,793.9 753.1,781.5 754.0,782.4 754.9,771.7 755.8,775.8 756.7,781.4 757.6,793.0 758.5,796.5 759.4,804.5 760.3,803.8 761.3,811.1 762.2,808.7 763.1,813.0 764.0,808.3 764.9,810.1 765.8,804.8 766.7,804.2 767.6,798.9 768.5,805.9 769.4,797.5 770.3,797.5 771.2,791.3 772.1,788.2 773.0,785.1 773.9,787.1 774.9,779.7 775.8,784.1 776.7,777.4 777.6,776.7 778.5,770.0 779.4,771.7 780.3,763.7 781.2,765.0 782.1,759.3 783.0,758.4 783.9,753.0 784.8,758.3 785.7,749.1 786.6,752.5 787.6,743.6 788.5,747.0 789.4,739.2 790.3,739.6 791.2,732.2 792.1,729.0 793.0,717.7 793.9,715.8 794.8,706.0 795.6,703.5 796.6,712.7 797.5,726.1 798.4,738.0 799.3,750.8 800.2,757.9 801.2,768.4 802.1,771.9 803.0,780.3 803.9,779.6 804.8,785.3 805.7,785.2 806.6,788.9 807.5,784.8 808.4,787.3 809.3,782.7 810.2,781.3 811.1,778.1 812.0,784.7 812.9,786.4 813.8,793.5 814.8,790.7 815.7,797.7 816.6,797.7 817.5,803.5 818.4,804.1 819.3,813.8 820.2,811.8 821.1,819.9 822.0,814.3 822.9,820.7 823.8,814.3 824.7,824.1 825.6,811.3 826.5,819.5 827.5,808.8 828.4,824.3 829.3,816.1 830.2,820.6 831.1,819.8 832.0,824.5 832.9,811.1 833.8,816.1 834.7,808.6 835.6,811.7 836.5,806.4 837.4,808.8 838.3,803.8 839.2,806.3 840.1,797.0 841.1,803.2 842.0,789.2 842.9,789.6 843.8,782.0 844.7,786.2 845.6,783.4 846.5,795.7 847.4,781.6 848.3,792.1 849.2,790.4 850.1,792.2 851.0,789.6 851.9,791.7 852.8,785.1 853.7,791.1 854.7,778.7 855.6,784.9 856.5,770.7 857.4,780.2 858.3,776.9 859.2,779.8 860.1,775.5 861.0,783.0 861.9,776.9 862.8,787.6 863.7,778.7 864.6,783.2 865.5,779.2 866.4,783.9 867.3,779.2 868.3,782.5 869.2,776.2 870.1,778.1 871.0,775.7 871.9,787.7 872.8,781.3 873.7,791.8 874.6,782.8 875.5,795.5 876.4,785.0 877.3,800.6 878.2,795.2 879.1,805.5 880.0,800.8 881.0,805.7 881.9,805.2 882.8,810.7 883.7,805.3 884.6,808.8 885.5,802.3 886.4,810.0 887.3,804.3 888.2,813.5 889.1,811.4 890.0,818.0 890.9,809.4 891.8,816.5 892.7,809.9 893.6,819.6 894.6,815.8 895.5,819.8 896.4,820.0 897.3,825.1 898.2,816.5 899.1,826.6 900.0,821.7 900.9,824.6 901.8,820.5 902.7,825.9 903.6,823.3 904.5,824.6 905.4,819.2 906.3,826.0 907.2,818.8 908.2,825.2 909.1,817.7 910.0,826.1 910.9,822.5 911.8,825.4 912.7,820.2 913.6,823.6 914.5,813.1 915.4,824.6 916.3,819.9 917.2,831.3 918.1,824.9 919.0,827.0 919.9,822.7 920.9,832.0 921.8,822.8 922.7,829.1 923.6,825.8 924.5,829.7 925.4,814.3 926.3,820.1 927.2,812.2 928.1,819.1 929.0,817.3 929.9,820.6 930.8,816.7 931.7,820.8 932.6,816.2 933.5,825.1 934.5,814.1 935.4,817.9 936.3,811.4 937.2,813.3 938.1,804.0 939.0,811.2 939.9,807.5 940.8,817.5 941.7,808.1 942.6,810.8 943.5,803.0 944.4,804.2 945.3,798.7 946.2,805.2 947.1,799.2 948.1,805.4 949.0,798.7 949.9,805.1 950.8,797.7 951.7,803.3 952.6,796.8 953.5,800.9 954.4,793.1 955.3,803.5 956.2,794.9 957.1,801.7 958.0,795.6 958.9,802.1 959.8,794.4 960.8,805.6 961.7,797.6 962.6,806.7 963.5,794.5 964.4,803.7 965.3,790.4 966.2,798.8 967.1,798.3 968.0,804.3 968.9,800.5 969.8,803.8 970.7,795.2 971.6,802.4 972.5,795.8 973.4,797.9 974.4,786.1 975.3,797.3 976.2,793.1 977.1,801.3 978.0,794.5 978.9,803.9 979.8,799.1 980.7,802.2 981.6,796.1 982.5,801.0 983.4,787.4 984.3,796.8 985.2,793.5 986.1,797.5 987.0,790.0 988.0,802.6 988.9,789.1 989.8,791.9 990.7,784.4 991.6,790.6 992.5,777.9 993.4,775.5 994.3,759.4 995.2,771.5 996.1,763.2 997.0,767.7 997.9,759.2 998.8,769.3 999.7,762.1 1000.6,770.0 1001.6,763.5 1002.5,770.3 1003.4,764.4 1004.3,769.2 1005.2,764.9 1006.1,771.9 1007.0,766.3 1007.9,773.8 1008.8,769.7 1009.7,775.6 1010.6,767.2 1011.5,768.8 1012.4,766.5 1013.3,775.5 1014.3,768.1 1015.2,775.4 1016.1,771.2 1017.0,775.0 1017.9,768.8 1018.8,773.8 1019.7,768.2 1020.6,769.9 1021.5,759.2 1022.4,765.2 1023.3,761.1 1024.2,769.7 1025.1,764.3 1026.0,771.2 1026.9,767.6 1027.9,774.4 1028.8,767.4 1029.7,774.1 1030.6,771.8 1031.5,782.2 1032.4,767.5 1033.3,774.3 1034.2,765.0 1035.1,768.3 1036.0,761.9 1036.9,770.6 1037.8,762.7 1038.7,770.4 1039.6,763.2 1040.5,768.9 1041.5,758.7 1042.4,767.5 1043.3,760.3 1044.2,763.0 1045.1,756.1 1046.0,759.3 1046.9,750.1 1047.8,759.0 1048.7,747.8 1049.6,750.6 1050.5,740.3 1051.4,744.7 1052.3,736.8 1053.2,738.8 1054.2,720.7 1055.1,732.8 1056.0,722.2 1056.9,724.4 1057.8,718.3 1058.7,724.4 1059.6,711.5 1060.5,715.7 1061.4,700.9 1061.8,705.6 1062.3,711.9 1063.2,713.4 1064.1,729.2 1065.0,722.7 1065.9,730.5 1066.8,718.3 1067.8,724.3 1068.7,719.9 1069.6,733.0 1070.5,727.2 1071.4,732.3 1072.3,728.5 1073.2,733.9 1074.1,732.4 1075.0,737.8 1075.9,736.3 1076.8,743.1 1077.7,740.6 1078.6,744.5 1079.5,745.9 1080.4,748.1 1081.4,740.9 1082.3,749.4 1083.2,740.4 1084.1,745.2 1085.0,739.8 1085.9,743.5 1086.8,736.6 1087.7,743.7 1088.6,739.8 1089.5,741.3 1090.4,734.7 1091.3,737.8 1092.2,731.0 1093.1,737.7 1094.0,737.4 1095.0,739.2 1095.9,732.8 1096.8,736.0 1097.7,729.2 1098.6,737.0 1099.5,725.2 1100.4,730.2 1101.3,721.8 1102.2,727.4 1103.1,722.5 1104.0,728.9 1104.9,724.6 1105.8,729.0 1106.7,719.3 1107.7,730.5 1108.6,717.9 1109.5,720.6 1110.4,714.3 1111.3,720.8 1112.2,714.3 1113.1,717.8 1114.0,715.1 1114.9,719.4 1115.8,718.4 1116.7,715.3 1117.6,707.1 1118.5,699.9 1119.4,688.6 1120.3,680.0 1121.3,676.2 1122.2,676.8 1123.1,673.4 1124.0,674.1 1124.9,670.6 1125.8,671.5 1126.7,667.2 1127.6,667.0 1128.5,663.4 1129.4,661.8 1130.3,657.0 1131.2,656.2 1132.1,649.3 1133.0,645.7 1133.9,639.6 1134.9,635.5 1135.8,628.3 1136.7,627.8 1137.6,621.2 1138.5,626.2 1139.4,626.6 1140.3,634.3 1141.2,638.7 1142.1,645.9 1143.0,647.0 1143.9,649.0 1144.8,642.1 1145.7,638.5 1146.6,640.0 1147.6,644.9 1148.5,644.8 1149.4,640.6 1150.3,632.1 1151.2,625.7 1152.1,615.8 1153.0,608.5 1153.9,598.1 1154.8,588.5 1155.7,572.6 1156.6,551.1 1157.5,524.0 1158.4,513.6 1159.3,499.6 1160.2,491.1 1161.2,496.2 1162.1,507.6 1163.0,518.9 1163.9,528.6 1164.8,534.3 1165.3,539.0 1165.7,536.9 1166.6,528.6 1167.5,525.4 1168.4,508.9 1169.3,490.1 1170.2,470.3 1171.1,459.9 1172.0,449.1 1172.9,441.9 1173.3,437.4 1173.8,442.0 1174.8,448.8 1175.7,456.3 1176.6,472.9 1177.5,494.0 1178.4,512.0 1179.3,525.8 1180.2,545.3 1181.1,562.1 1182.0,580.5 1182.9,594.3 1183.8,608.6 1184.7,614.1 1185.6,624.9 1186.5,632.7 1187.5,640.7 1188.4,642.1 1189.2,647.8 1190.2,643.6 1191.1,641.2 1192.0,636.7 1192.9,633.0 1193.8,624.7 1194.7,624.8 1195.6,621.1 1196.5,621.8 1197.4,618.5 1198.3,623.4 1199.2,628.6 1200.1,638.8 1201.1,645.2 1202.0,651.4 1203.0,655.0 1203.8,652.9 1204.7,648.2 1205.6,647.6 1206.5,641.1 1207.4,637.2 1208.3,627.1 1209.2,621.0 1210.1,606.3 1211.0,596.3 1211.9,583.0 1212.8,574.6 1213.7,560.2 1214.7,538.0 1215.6,524.8 1216.5,520.5 1217.4,514.3 1218.3,522.8 1219.2,531.2 1220.1,546.7 1221.0,553.8 1221.9,562.3 1222.8,566.3 1223.7,576.7 1224.6,581.7 1225.5,590.3 1226.4,593.0 1227.3,597.0 1228.3,596.3 1229.2,598.7 1230.1,614.8 1231.0,621.0 1231.9,626.4 1232.8,635.4 1233.7,640.5 1234.6,649.9 1235.5,654.1 1236.4,661.2 1237.3,665.7 1238.2,671.6 1239.1,670.8 1240.0,673.4 1241.0,674.5 1241.9,676.5 1242.8,671.8 1243.7,670.9 1244.6,666.7 1245.5,661.1 1246.4,646.2 1247.3,640.0 1248.2,631.5 1249.1,629.1 1250.0,617.2 1250.9,616.7 1251.8,613.6 1252.7,617.7 1253.6,623.0 1254.6,630.8 1255.5,634.7 1256.4,642.0 1257.3,646.8 1258.2,651.8 1259.1,651.4 1260.0,653.6 1260.9,655.8 1261.8,664.6 1262.7,665.5 1263.6,671.6 1264.5,672.1 1265.4,669.9 1266.3,662.9 1267.2,661.4 1268.2,658.4 1269.1,657.8 1270.0,655.4 1270.9,652.9 1271.8,642.8 1272.7,639.4 1273.6,631.6 1274.5,628.0 1275.4,620.7 1276.3,615.7 1277.2,609.1 1278.1,605.9 1279.0,600.0 1279.9,598.7 1280.9,593.9 1281.8,590.1 1282.7,580.8 1283.6,569.0 1284.5,552.9 1285.4,541.1 1286.3,526.7 1287.2,515.2 1288.1,500.8 1289.0,488.2 1289.9,491.8 1290.8,500.6 1291.7,507.7 1292.6,521.2 1293.5,533.9 1294.5,560.8 1295.4,571.6 1296.3,588.3 1297.2,598.6 1298.1,613.2 1299.0,620.5 1299.9,625.5 1300.8,627.2 1301.7,628.4 1302.6,625.9 1303.5,621.3 1304.4,608.9 1305.3,597.7 1306.2,581.6 1307.1,567.2 1308.1,545.7 1309.0,527.3 1309.9,489.3 1310.8,469.0 1311.7,463.0 1312.6,465.7 1313.5,473.1 1314.4,484.0 1315.4,492.5 1316.2,486.0 1317.1,474.5 1318.0,464.3 1318.9,443.3 1319.8,431.5 1320.7,399.8 1321.7,362.1 1322.6,338.9 1323.5,327.6 1324.4,325.4 1325.3,329.6 1326.2,331.4 1327.1,342.7 1328.0,353.3 1328.9,380.1 1329.8,414.1 1330.7,452.6 1331.6,481.5 1332.5,500.9 1333.4,530.6 1334.4,552.3 1335.3,566.8 1336.2,582.4 1337.1,588.3 1338.0,599.2 1338.9,600.0 1339.8,601.8 1340.7,598.0 1341.6,600.5 1342.5,603.7 1343.4,615.0 1344.3,615.1 1345.2,619.7 1346.1,621.0 1347.0,627.3 1348.0,626.4 1348.9,639.0 1349.8,643.5 1350.7,648.9 1351.6,648.3 1352.5,652.8 1353.4,649.7 1354.3,652.0 1355.2,648.7 1356.1,651.2 1357.0,643.5 1357.9,644.2 1358.8,636.7 1359.7,635.1 1360.6,625.0 1361.6,623.0 1362.5,615.4 1363.4,612.0 1364.3,599.3 1365.2,599.7 1366.1,586.9 1367.0,586.9 1367.9,571.1 1368.8,570.6 1369.7,563.4 1370.6,573.2 1371.5,578.9 1372.4,594.2 1373.3,596.3 1374.3,606.5 1375.2,605.1 1376.1,622.3 1377.0,618.9 1377.9,628.4 1378.8,632.4 1379.7,640.3 1380.6,640.4 1381.5,646.4 1382.4,637.8 1383.3,645.5 1384.2,639.7 1385.1,649.2 1386.0,644.1 1386.9,652.1 1387.9,640.3 1388.8,645.3 1389.7,641.7 1390.6,641.9 1391.5,634.9 1392.4,635.5 1393.3,629.9 1394.2,627.9 1395.1,624.2 1396.0,624.3 1396.9,611.1 1397.8,608.1 1398.7,601.8 1399.6,604.6 1400.5,599.3 1401.5,602.6 1402.4,591.1 1403.3,594.6 1404.2,590.0 1405.1,593.7 1406.0,589.9 1406.9,592.6 1407.8,588.0 1408.7,596.9 1409.6,595.9 1410.5,601.8 1411.4,600.2 1412.3,603.5 1413.2,601.3 1414.2,610.1 1415.1,611.4 1416.0,615.4 1416.9,612.2 1417.8,617.2 1418.7,614.4 1419.6,623.7 1420.5,622.1 1421.4,632.3 1422.3,627.6 1423.2,631.3 1424.1,629.2 1425.0,631.2 1425.9,624.0 1426.8,629.4 1427.8,619.2 1428.7,621.2 1429.6,617.6 1430.5,617.0 1431.4,605.7 1432.3,608.6 1433.2,594.9 1434.1,594.4 1435.0,584.8 1435.9,587.7 1436.8,576.7 1437.7,574.3 1438.6,561.4 1439.5,554.8 1440.4,557.0 1441.4,567.9 1442.3,569.3 1443.2,577.1 1444.1,579.6 1445.0,592.7 1445.9,593.3 1446.8,605.9 1447.7,609.1 1448.6,620.0 1449.5,617.4 1450.4,627.7 1451.3,630.7 1452.2,640.4 1453.1,642.0 1454.0,651.3 1455.0,649.9 1455.9,656.9 1456.8,656.7 1457.7,662.3 1458.6,659.2 1459.5,663.9 1460.4,663.6 1461.3,671.9 1462.2,672.5 1463.1,676.0 1464.0,668.4 1464.9,671.3 1465.8,668.5 1466.7,675.7 1467.7,675.1 1468.6,683.0 1469.5,675.4 1470.4,678.3 1471.3,669.9 1472.2,669.5 1473.1,660.7 1474.0,665.3 1474.9,656.5 1475.8,658.0 1476.7,654.5 1477.6,661.6 1478.5,656.5 1479.4,665.6 1480.3,664.0 1481.3,674.5 1482.2,675.9 1483.1,686.6 1484.0,684.4 1484.9,691.8 1485.8,691.5 1486.7,700.6 1487.6,695.5 1488.5,705.1 1489.4,705.1 1490.3,708.9 1491.2,704.9 1492.1,712.7 1493.0,704.2 1493.9,716.6 1494.9,710.8 1495.8,717.0 1496.7,709.0 1497.6,716.1 1498.5,716.1 1499.4,722.1 1500.3,721.3 1501.2,724.0 1502.1,720.6 1503.0,728.0 1503.9,725.6 1504.8,728.6 1505.7,722.9 1506.6,735.0 1507.6,717.6 1508.5,726.8 1509.4,721.4 1510.3,723.6 1511.2,719.8 1512.1,726.7 1513.0,723.6 1513.9,727.8 1514.8,716.2 1515.7,718.8 1516.6,711.6 1517.5,714.9 1518.4,710.8 1519.3,712.6 1520.2,706.7 1521.2,705.4 1522.1,692.6 1523.0,702.9 1523.9,691.7 1524.8,703.9 1525.7,699.2 1526.6,711.7 1527.5,708.9 1528.4,718.0 1529.3,715.6 1530.2,722.4 1531.1,713.4 1532.0,722.3 1532.9,712.8 1533.8,725.0 1534.8,720.8 1535.7,728.0 1536.6,722.7 1537.5,728.4 1538.4,723.4 1539.3,728.1 1540.2,723.6 1541.1,736.3 1542.0,726.7 1542.9,732.9 1543.8,724.7 1544.7,730.3 1545.6,722.3 1546.5,728.3 1547.4,721.2 1548.4,728.7 1549.3,724.0 1550.2,725.3 1551.1,718.0 1552.0,725.4 1552.9,713.3 1553.8,722.3 1554.7,718.9 1555.6,726.9 1556.5,720.0 1557.4,733.8 1558.3,725.3 1559.2,730.3 1560.1,731.3 1561.1,736.9 1562.0,734.8 1562.9,741.4 1563.8,730.1 1564.7,737.7 1565.6,730.3 1566.5,738.2 1567.4,729.3 1568.3,732.4 1569.2,724.0 1570.1,731.3 1571.0,721.5 1571.9,727.2 1572.8,716.2 1573.7,716.9 1574.7,700.6 1575.6,709.8 1576.5,710.7 1577.4,718.6 1578.3,707.6 1579.2,720.1 1580.1,713.7 1581.0,717.2 1581.9,708.9 1582.8,726.4 1583.7,710.0 1584.6,722.9 1585.5,715.1 1586.4,722.7 1587.3,715.7 1588.3,720.7 1589.2,719.2 1590.1,730.2 1591.0,723.6 1591.9,732.8 1592.8,721.1 1593.7,731.9 1594.6,729.0 1595.5,739.7 1596.4,730.3 1597.3,734.7 1598.2,724.6 1599.1,731.0 1600.0,722.0 1601.0,734.1 1601.9,727.9 1602.8,733.7 1603.7,727.2 1604.6,730.6 1605.5,719.8 1606.4,722.8 1607.3,714.4 1608.2,720.2 1609.1,715.8 1610.0,721.5 1610.9,719.8 1611.8,729.9 1612.7,720.2 1613.6,730.6 1614.6,721.6 1615.5,728.7 1616.4,721.3 1617.3,727.1 1618.2,716.4 1619.1,726.3 1620.0,723.4 1620.9,731.1 1621.8,722.0 1622.7,731.5 1623.6,730.7 1624.5,734.2 1625.4,731.6 1626.3,740.8 1627.2,739.0 1628.2,747.2 1629.1,740.9 1630.0,742.6 1630.9,736.4 1631.8,736.9 1632.7,727.3 1633.6,735.2 1634.5,733.7 1635.4,736.6 1636.3,730.4 1637.2,740.0 1638.1,726.8 1639.0,738.1 1639.9,731.4 1640.9,737.1 1641.8,729.0 1642.7,736.0 1643.6,734.0 1644.5,734.3 1645.4,721.3 1646.3,721.6 1647.2,713.8 1648.1,716.0 1649.0,713.6 1649.9,714.7 1650.8,710.0 1651.7,714.2 1652.6,701.4 1653.5,712.8 1654.5,703.0 1655.4,708.5 1656.3,699.3 1657.2,704.8 1658.1,691.2 1659.0,699.0 1659.9,703.6 1660.8,707.1 1661.7,699.4 1662.6,709.4 1663.5,704.1 1664.4,714.4 1665.3,709.6 1666.2,717.7 1667.1,718.7 1668.1,723.1 1669.0,716.0 1669.9,722.2 1670.8,710.9 1671.7,723.0 1672.6,717.4 1673.5,724.5 1674.4,722.8 1675.3,728.5 1676.2,720.5 1677.1,732.2 1678.0,727.2 1678.9,732.0 1679.8,727.4 1680.7,729.4 1681.7,722.9 1682.6,726.3 1683.5,719.6 1684.4,730.3 1685.3,718.7 1686.2,720.5 1687.1,716.4 1688.0,717.9 1688.9,714.3 1689.8,718.1 1690.7,714.7 1691.6,719.6 1692.5,712.4 1693.4,718.9 1694.4,713.5 1695.3,723.5 1696.2,718.5 1697.1,725.4 1698.0,717.3 1698.9,728.8 1699.8,718.3 1700.7,719.3 1701.6,715.8 1702.5,721.8 1703.4,712.9 1704.3,720.2 1705.2,714.0 1706.1,720.0 1707.0,716.3 1708.0,719.3 1708.9,710.1 1709.8,711.7 1710.7,705.6 1711.6,713.5 1712.5,712.7 1713.4,721.8 1714.3,715.4 1715.2,724.3 1716.1,722.6 1717.0,725.6 1717.9,717.2 1718.8,728.5 1719.7,721.5 1720.6,727.6 1721.6,720.1 1722.5,720.8 1723.4,719.0 1724.3,726.1 1725.2,716.2 1726.1,723.5 1727.0,712.2 1727.9,724.5 1728.8,711.4 1729.7,716.0 1730.6,716.5 1731.5,723.5 1732.4,719.9 1733.3,727.5 1734.3,722.8 1735.2,738.0 1736.1,726.4 1737.0,734.4 1737.9,729.3 1738.8,730.6 1739.7,726.6 1740.6,739.7 1741.5,728.1 1742.4,732.9 1743.3,724.7 1744.2,730.4 1745.1,725.0 1746.0,730.4 1746.9,724.7 1747.9,727.6 1748.8,725.4 1749.7,727.0 1750.6,725.0 1751.5,731.0 1752.4,728.3 1753.3,735.4 1754.2,733.1 1755.1,745.3 1756.0,738.8 1756.9,749.4 1757.8,742.2 1758.7,748.9 1759.6,744.7 1760.5,746.4 1761.5,743.0 1762.4,750.7 1763.3,738.2 1764.2,746.2 1765.1,738.3 1766.0,753.0 1766.9,747.8 1767.8,751.6 1768.7,739.2 1769.6,750.5 1770.5,739.9 1771.4,747.2 1772.3,743.7 1773.2,749.0 1774.1,744.9 1775.1,755.4 1776.0,751.0 1776.9,759.5 1777.8,752.7 1778.7,757.3 1779.6,745.8 1780.5,757.4 1781.4,751.4 1782.3,754.0 1783.2,746.2 1784.1,754.4 1785.0,741.4 1785.9,752.1 1786.8,745.9 1787.8,749.9 1788.7,743.9 1789.6,744.1 1790.5,737.5 1791.4,737.9 1792.3,735.5 1793.2,738.7 1794.1,731.6 1795.0,736.6 1795.9,729.8 1796.8,740.2 1797.7,733.4 1798.6,738.7 1799.5,735.2 1800.4,748.5 1801.4,739.0 1802.3,755.5 1803.2,749.9 1804.1,758.0 1805.0,749.1 1805.9,757.1 1806.8,748.9 1807.7,756.9 1808.6,756.9 1809.5,762.8 1810.4,758.5 1811.3,764.4 1812.2,751.9 1813.1,761.4 1814.0,754.5 1815.0,760.0 1815.9,755.7 1816.8,764.8 1817.7,757.6 1818.6,762.4 1819.5,763.3 1820.4,767.8 1821.3,757.5 1822.2,769.0 1823.1,755.9 1824.0,759.3 1824.9,752.5 1825.8,760.8 1826.7,750.6 1827.7,765.1 1828.6,748.5 1829.5,757.2 1830.4,747.7 1831.3,761.0 1832.2,747.2 1833.1,757.9 1834.0,751.2 1834.9,757.9 1835.8,754.1 1836.7,759.8 1837.6,754.7 1838.5,759.6 1839.4,754.4 1840.3,755.6 1841.3,755.4 1842.2,762.8 1843.1,757.5 1844.0,763.8 1844.9,754.7 1845.8,758.6 1846.7,750.5 1847.6,758.5 1848.5,749.2 1849.4,764.6 1850.3,753.8 1851.2,759.0 1852.1,750.7 1853.0,756.9 1853.9,748.7 1854.9,752.8 1855.8,745.5 1856.7,757.2 1857.6,742.7 1858.5,746.0 1859.4,734.6 1860.3,740.9 1861.2,730.9 1862.1,735.1 1863.0,730.2 1863.9,737.8 1864.8,734.1 1865.7,741.3 1866.6,739.1 1867.6,742.9 1868.5,744.7 1869.4,758.8 1870.3,752.3 1871.2,756.6 1872.1,746.8 1873.0,759.6 1873.9,756.7 1874.8,762.9 1875.7,757.9 1876.6,767.2 1877.5,757.1 1878.4,766.1 1879.3,754.8 1880.2,764.5 1881.2,751.8 1882.1,759.1 1883.0,747.7 1883.9,757.4 1884.8,753.7 1885.7,758.6 1886.6,752.4 1887.5,760.0 1888.4,754.1 1889.3,759.1 1890.2,759.2 1891.1,767.9 1892.0,760.1 1892.9,766.5 1893.8,759.8 1894.8,764.5 1895.7,761.2 1896.6,772.6 1897.5,758.2 1898.4,764.3 1899.3,754.3 1900.2,765.8 1901.1,754.7 1902.0,767.2 1902.9,765.0 1903.8,771.3 1904.7,765.4 1905.6,771.3 1906.5,767.6 1907.4,771.1 1908.4,767.4 1909.3,776.7 1910.2,769.5 1911.1,771.3 1912.0,767.1 1912.9,768.3 1913.8,765.1 1914.7,771.0 1915.6,766.4 1916.5,773.5 1917.4,769.1 1918.3,769.0 1919.2,763.8 1920.1,767.7 1921.1,763.3 1922.0,769.9 1922.9,766.2 1923.8,773.3 1924.7,762.8 1925.6,771.9 1926.5,766.9 1927.4,774.7 1928.3,768.7 1929.2,775.2 1930.1,762.0 1931.0,773.3 1931.9,770.9 1932.8,776.9 1933.7,768.3 1934.7,780.7 1935.6,770.3 1936.5,778.8 1937.4,775.1 1938.3,782.4 1939.2,775.9 1940.1,784.8 1941.0,775.3 1941.9,786.4 1942.8,778.8 1943.7,781.4 1944.6,776.8 1945.5,787.0 1946.4,780.0 1947.3,792.3 1948.3,782.7 1949.2,784.8 1950.1,778.4 1951.0,787.3 1951.9,772.1 1952.8,782.4 1953.7,776.6 1954.6,784.2"/>
</g>
<g id="guides" shape-rendering="crispEdges">
<line class="dl" x1="433.0" y1="166.0" x2="433.0" y2="1482.0" stroke-width="2" stroke-dasharray="9.7 7.735" stroke-dashoffset="0.60"/>
<line class="dl" x1="464.0" y1="176.0" x2="464.0" y2="1337.0" stroke-width="2" stroke-dasharray="9.7 7.735" stroke-dashoffset="0.00"/>
<line class="dl" x1="499.0" y1="172.0" x2="499.0" y2="1436.0" stroke-width="2" stroke-dasharray="9.7 7.735" stroke-dashoffset="0.10"/>
<line class="dl" x1="596.0" y1="184.0" x2="596.0" y2="304.0" stroke-width="2" stroke-dasharray="9.7 7.735" stroke-dashoffset="2.60"/>
<line class="dl" x1="595.0" y1="565.0" x2="595.0" y2="809.0" stroke-width="2" stroke-dasharray="9.7 7.735" stroke-dashoffset="0.03"/>
<line class="dl" x1="595.0" y1="1317.0" x2="595.0" y2="1446.5" stroke-width="2" stroke-dasharray="9.7 7.735" stroke-dashoffset="2.32"/>
<line class="dl" x1="595.5" y1="304.0" x2="595.5" y2="565.0" stroke-width="3" stroke-dasharray="9.7 7.735" stroke-dashoffset="0.50"/>
<line class="dl" x1="595.5" y1="809.0" x2="595.5" y2="1317.0" stroke-width="3" stroke-dasharray="9.7 7.735" stroke-dashoffset="0.00"/>
<line class="dl" x1="567.5" y1="408.0" x2="567.5" y2="1079.0" stroke-width="3" stroke-dasharray="9.7 7.735" stroke-dashoffset="0.50"/>
<line class="dl" x1="558.0" y1="1380.0" x2="558.0" y2="1440.0" stroke-width="2" stroke-dasharray="9.7 7.735" stroke-dashoffset="1.90"/>
<line class="dl" x1="1276.5" y1="165.0" x2="1276.5" y2="1318.6" stroke-width="3" stroke-dasharray="9.7 7.735" stroke-dashoffset="7.40"/>
<line class="dl" x1="1320.5" y1="166.6" x2="1320.5" y2="944.0" stroke-width="3" stroke-dasharray="9.7 7.735" stroke-dashoffset="0.03"/>
</g>
<g id="axes" fill="#000" shape-rendering="crispEdges">
<rect x="139" y="166" width="4" height="1475"/>
<rect x="2066" y="166" width="4" height="1461"/>
<rect x="139" y="166" width="1931" height="5"/>
<rect x="139" y="1611" width="1931" height="4"/>
<rect x="252" y="1611" width="4" height="16"/>
<rect x="366" y="1611" width="4" height="30"/>
<rect x="479" y="1611" width="4" height="16"/>
<rect x="592" y="1611" width="4" height="30"/>
<rect x="706" y="1611" width="4" height="16"/>
<rect x="819" y="1611" width="4" height="30"/>
<rect x="932" y="1611" width="4" height="16"/>
<rect x="1046" y="1611" width="4" height="30"/>
<rect x="1159" y="1611" width="4" height="16"/>
<rect x="1273" y="1611" width="4" height="30"/>
<rect x="1386" y="1611" width="4" height="16"/>
<rect x="1499" y="1611" width="4" height="30"/>
<rect x="1613" y="1611" width="4" height="16"/>
<rect x="1726" y="1611" width="4" height="30"/>
<rect x="1839" y="1611" width="4" height="16"/>
<rect x="1953" y="1611" width="4" height="30"/>
</g>
<g id="ticklabels" class="t47">
<text transform="translate(141.0,1697) scale(1,1.04)" text-anchor="middle">0</text>
<text transform="translate(367.7,1697) scale(1,1.04)" text-anchor="middle">5</text>
<text transform="translate(594.4,1697) scale(1,1.04)" text-anchor="middle">10</text>
<text transform="translate(821.1,1697) scale(1,1.04)" text-anchor="middle">15</text>
<text transform="translate(1047.8,1697) scale(1,1.04)" text-anchor="middle">20</text>
<text transform="translate(1274.5,1697) scale(1,1.04)" text-anchor="middle">25</text>
<text transform="translate(1501.2,1697) scale(1,1.04)" text-anchor="middle">30</text>
<text transform="translate(1727.9,1697) scale(1,1.04)" text-anchor="middle">35</text>
<text transform="translate(1954.6,1697) scale(1,1.04)" text-anchor="middle">40</text>
</g>
<g id="titles" class="t60">
<text transform="translate(992.6,1800) scale(1,1.04)">2</text>
<text transform="translate(1027.7,1800) scale(1,1.04)" style="font-size:61.1px" class="ser">θ</text>
<text transform="translate(1074.7,1800) scale(1,1.04)">(deg)</text>
<text transform="translate(86,959.3) rotate(-90) scale(1,1.04)" style="letter-spacing:0px">Intensity (arb. u.)</text>
</g>
<g id="hkl" class="t44">
<text transform="translate(442,155.5) rotate(-90) scale(0.976,1.04)">(002)</text>
<text transform="translate(483.8,156.5) rotate(-90) scale(0.976,1.04)">(100)</text>
<text transform="translate(531.1,155.5) rotate(-90) scale(0.976,1.04)">(101)</text>
<text transform="translate(617.1,158.4) rotate(-90) scale(0.976,1.04)">(102)</text>
<text transform="translate(1290,153.5) rotate(-90) scale(0.976,1.04)">(310)</text>
<text transform="translate(585,393.5) rotate(-90) scale(1,1.04)">FER</text>
<text transform="translate(573.9,1376.3) rotate(-90) scale(1,1.04)">FER</text>
<text transform="translate(1327.5,140) scale(1,1.04)" text-anchor="middle" style="font-size:40px">●</text>
</g>
<g id="legend" class="t44">
<text transform="translate(183.1,230.2) scale(1.09,1)" text-anchor="middle" style="font-size:42.7px">♦</text>
<text transform="translate(212.6,229) scale(1,1.04)">- Al<tspan class="sub" dy="11.6">2</tspan><tspan dy="-11.6">O</tspan><tspan class="sub" dy="11.6">3</tspan></text>
<text transform="translate(177,296) scale(1,1.04)" text-anchor="middle" style="font-size:37px">●</text>
<text transform="translate(199,296.6) scale(1,1.04)">- SiO<tspan class="sub" dy="11.8">2</tspan></text>
</g>
<g id="labels" class="t47">
<text transform="translate(1734.1,655.1) scale(1,1.04)" style="word-spacing:2px">FeM36-SiAl</text>
<text transform="translate(1679.4,979) scale(1,1.04)" style="word-spacing:2px">FeM36-Si</text>
<text transform="translate(1694.4,1321.9) scale(1,1.04)" style="word-spacing:2px">FeM22 (P)</text>
</g>
</svg></body></html>
